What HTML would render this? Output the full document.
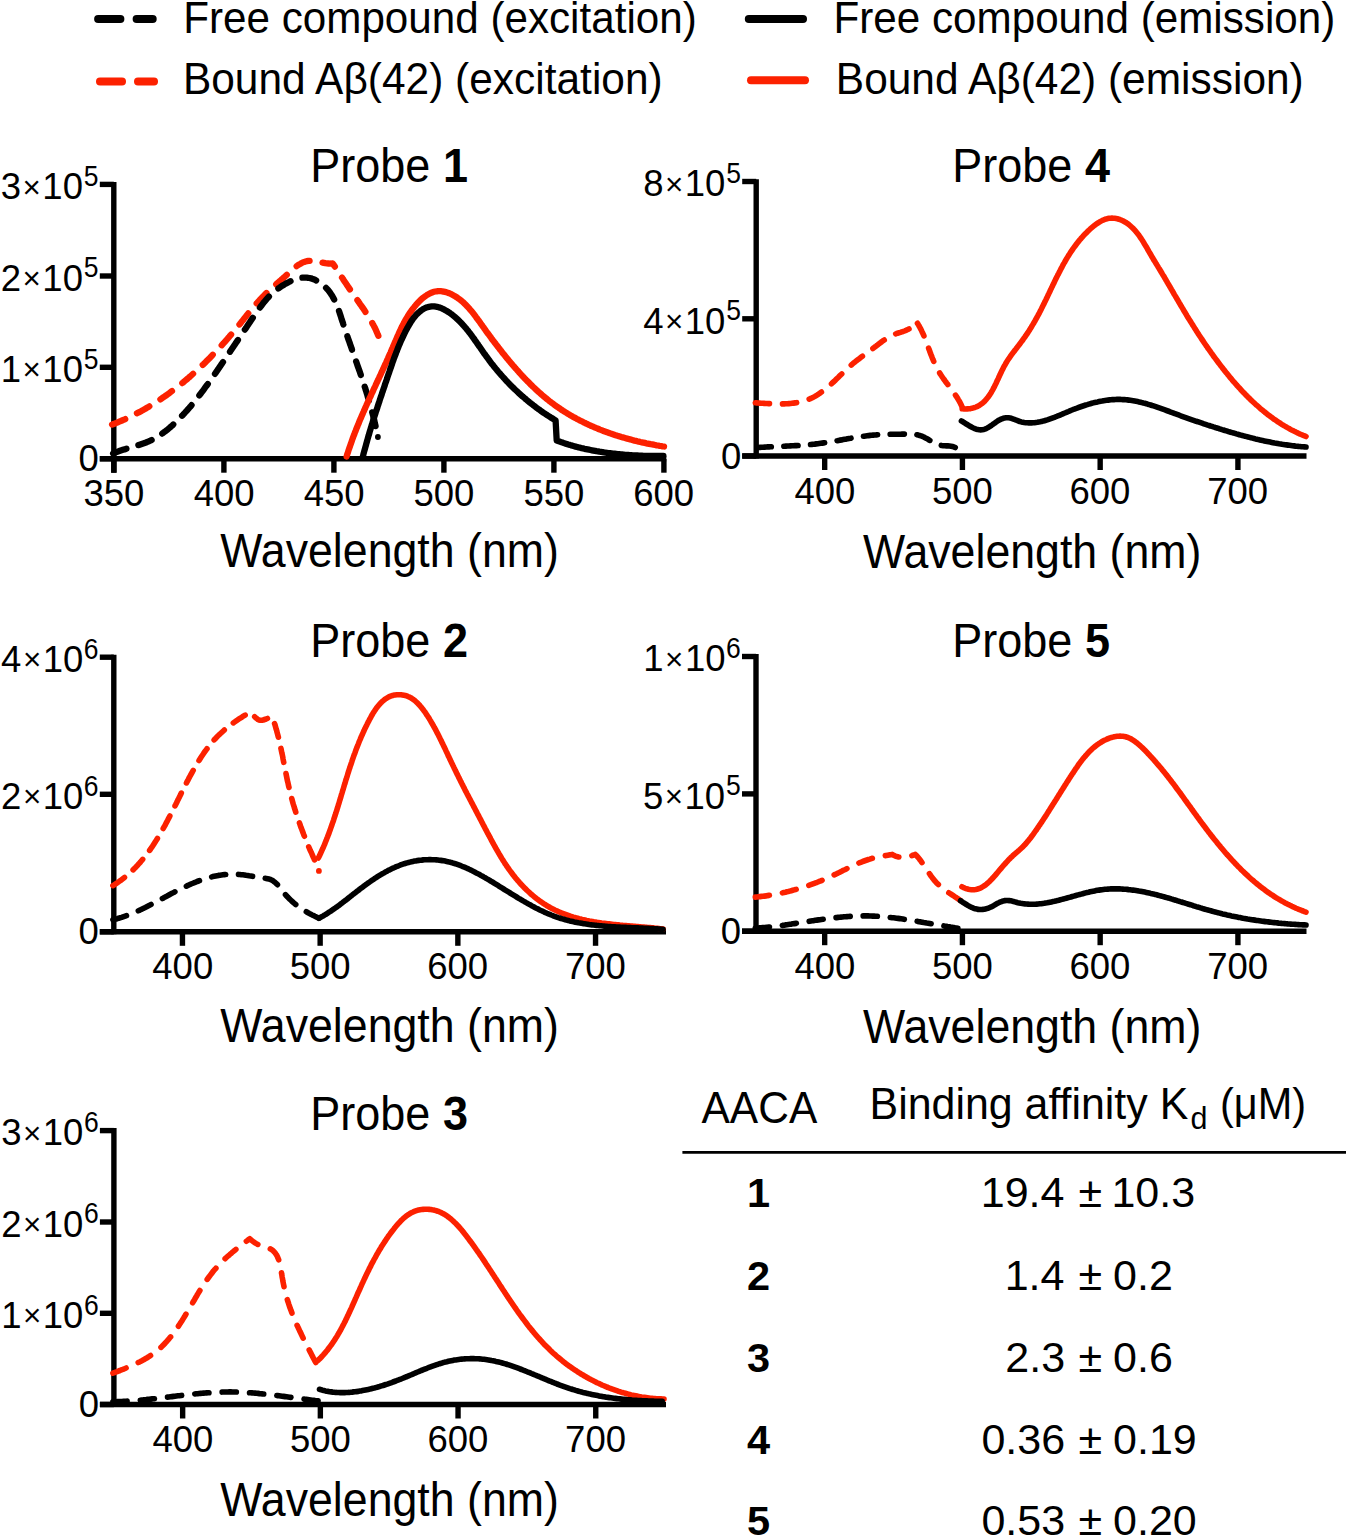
<!DOCTYPE html>
<html><head><meta charset="utf-8"><style>
html,body{margin:0;padding:0;background:#fff;}
svg{display:block;font-family:"Liberation Sans",sans-serif;}
</style></head><body>
<svg width="1350" height="1539" viewBox="0 0 1350 1539">
<rect width="1350" height="1539" fill="#fff"/>
<text transform="translate(183.24,32.80) scale(1,1.055)" font-size="42.2" font-weight="normal">Free compound (excitation)</text>
<text transform="translate(182.92,93.60) scale(1,1.055)" font-size="42.45" font-weight="normal">Bound Aβ(42) (excitation)</text>
<text transform="translate(833.54,32.80) scale(1,1.055)" font-size="42.2" font-weight="normal">Free compound (emission)</text>
<text transform="translate(835.82,93.60) scale(1,1.055)" font-size="42.45" font-weight="normal">Bound Aβ(42) (emission)</text>
<line x1="98.10" y1="19.00" x2="120.40" y2="19.00" stroke="#000" stroke-width="8" stroke-linecap="round"/>
<line x1="136.60" y1="19.00" x2="152.70" y2="19.00" stroke="#000" stroke-width="8" stroke-linecap="round"/>
<line x1="100.00" y1="81.50" x2="122.00" y2="81.50" stroke="#FC2100" stroke-width="8" stroke-linecap="round"/>
<line x1="138.00" y1="81.50" x2="154.00" y2="81.50" stroke="#FC2100" stroke-width="8" stroke-linecap="round"/>
<line x1="748.80" y1="19.00" x2="803.00" y2="19.00" stroke="#000" stroke-width="8" stroke-linecap="round"/>
<line x1="751.00" y1="80.20" x2="805.00" y2="80.20" stroke="#FC2100" stroke-width="8" stroke-linecap="round"/>
<line x1="99.80" y1="458.70" x2="666.20" y2="458.70" stroke="#000" stroke-width="5.4" stroke-linecap="butt"/>
<line x1="113.80" y1="182.00" x2="113.80" y2="472.70" stroke="#000" stroke-width="5.4" stroke-linecap="butt"/>
<line x1="113.90" y1="458.70" x2="113.90" y2="472.70" stroke="#000" stroke-width="5.4" stroke-linecap="butt"/>
<text transform="translate(83.47,506.30) scale(1,1.0)" font-size="36.5" font-weight="normal">350</text>
<line x1="223.90" y1="458.70" x2="223.90" y2="472.70" stroke="#000" stroke-width="5.4" stroke-linecap="butt"/>
<text transform="translate(193.74,506.30) scale(1,1.0)" font-size="36.5" font-weight="normal">400</text>
<line x1="333.90" y1="458.70" x2="333.90" y2="472.70" stroke="#000" stroke-width="5.4" stroke-linecap="butt"/>
<text transform="translate(303.74,506.30) scale(1,1.0)" font-size="36.5" font-weight="normal">450</text>
<line x1="443.90" y1="458.70" x2="443.90" y2="472.70" stroke="#000" stroke-width="5.4" stroke-linecap="butt"/>
<text transform="translate(413.43,506.30) scale(1,1.0)" font-size="36.5" font-weight="normal">500</text>
<line x1="553.90" y1="458.70" x2="553.90" y2="472.70" stroke="#000" stroke-width="5.4" stroke-linecap="butt"/>
<text transform="translate(523.43,506.30) scale(1,1.0)" font-size="36.5" font-weight="normal">550</text>
<line x1="663.90" y1="458.70" x2="663.90" y2="472.70" stroke="#000" stroke-width="5.4" stroke-linecap="butt"/>
<text transform="translate(633.24,506.30) scale(1,1.0)" font-size="36.5" font-weight="normal">600</text>
<line x1="99.80" y1="458.70" x2="113.80" y2="458.70" stroke="#000" stroke-width="5.4" stroke-linecap="butt"/>
<text transform="translate(78.53,471.30) scale(1,1.0)" font-size="36.5" font-weight="normal">0</text>
<line x1="99.80" y1="367.30" x2="113.80" y2="367.30" stroke="#000" stroke-width="5.4" stroke-linecap="butt"/>
<text transform="translate(83.77,368.60) scale(1,1.08)" font-size="26.5" font-weight="normal">5</text>
<text x="0.75" y="382.10" font-size="36.5">1</text>
<text x="22.54" y="380.40" font-size="31.39">×</text>
<text x="42.36" y="382.10" font-size="36.5">10</text>
<line x1="99.80" y1="276.00" x2="113.80" y2="276.00" stroke="#000" stroke-width="5.4" stroke-linecap="butt"/>
<text transform="translate(83.77,277.30) scale(1,1.08)" font-size="26.5" font-weight="normal">5</text>
<text x="0.75" y="290.80" font-size="36.5">2</text>
<text x="22.54" y="289.10" font-size="31.39">×</text>
<text x="42.36" y="290.80" font-size="36.5">10</text>
<line x1="99.80" y1="184.40" x2="113.80" y2="184.40" stroke="#000" stroke-width="5.4" stroke-linecap="butt"/>
<text transform="translate(83.77,185.70) scale(1,1.08)" font-size="26.5" font-weight="normal">5</text>
<text x="0.75" y="199.20" font-size="36.5">3</text>
<text x="22.54" y="197.50" font-size="31.39">×</text>
<text x="42.36" y="199.20" font-size="36.5">10</text>
<text transform="translate(310.31,182.00) scale(1,1.06)" font-size="45.0" font-weight="normal">Probe </text>
<text transform="translate(442.89,182.00) scale(1,1.06)" font-size="45.0" font-weight="bold">1</text>
<text transform="translate(220.30,566.90) scale(1,1.065)" font-size="44.7" font-weight="normal">Wavelength (nm)</text>
<line x1="99.80" y1="931.80" x2="666.00" y2="931.80" stroke="#000" stroke-width="5.4" stroke-linecap="butt"/>
<line x1="113.80" y1="654.70" x2="113.80" y2="934.30" stroke="#000" stroke-width="5.4" stroke-linecap="butt"/>
<line x1="182.45" y1="931.80" x2="182.45" y2="945.80" stroke="#000" stroke-width="5.4" stroke-linecap="butt"/>
<text transform="translate(152.29,979.40) scale(1,1.0)" font-size="36.5" font-weight="normal">400</text>
<line x1="320.15" y1="931.80" x2="320.15" y2="945.80" stroke="#000" stroke-width="5.4" stroke-linecap="butt"/>
<text transform="translate(289.68,979.40) scale(1,1.0)" font-size="36.5" font-weight="normal">500</text>
<line x1="457.85" y1="931.80" x2="457.85" y2="945.80" stroke="#000" stroke-width="5.4" stroke-linecap="butt"/>
<text transform="translate(427.19,979.40) scale(1,1.0)" font-size="36.5" font-weight="normal">600</text>
<line x1="595.55" y1="931.80" x2="595.55" y2="945.80" stroke="#000" stroke-width="5.4" stroke-linecap="butt"/>
<text transform="translate(564.88,979.40) scale(1,1.0)" font-size="36.5" font-weight="normal">700</text>
<line x1="99.80" y1="931.80" x2="113.80" y2="931.80" stroke="#000" stroke-width="5.4" stroke-linecap="butt"/>
<text transform="translate(78.53,944.40) scale(1,1.0)" font-size="36.5" font-weight="normal">0</text>
<line x1="99.80" y1="794.30" x2="113.80" y2="794.30" stroke="#000" stroke-width="5.4" stroke-linecap="butt"/>
<text transform="translate(83.83,795.60) scale(1,1.08)" font-size="26.5" font-weight="normal">6</text>
<text x="1.08" y="809.10" font-size="36.5">2</text>
<text x="22.88" y="807.40" font-size="31.39">×</text>
<text x="42.70" y="809.10" font-size="36.5">10</text>
<line x1="99.80" y1="657.20" x2="113.80" y2="657.20" stroke="#000" stroke-width="5.4" stroke-linecap="butt"/>
<text transform="translate(83.83,658.50) scale(1,1.08)" font-size="26.5" font-weight="normal">6</text>
<text x="1.08" y="672.00" font-size="36.5">4</text>
<text x="22.88" y="670.30" font-size="31.39">×</text>
<text x="42.70" y="672.00" font-size="36.5">10</text>
<text transform="translate(310.31,656.70) scale(1,1.06)" font-size="45.0" font-weight="normal">Probe </text>
<text transform="translate(442.89,656.70) scale(1,1.06)" font-size="45.0" font-weight="bold">2</text>
<text transform="translate(220.30,1042.40) scale(1,1.065)" font-size="44.7" font-weight="normal">Wavelength (nm)</text>
<line x1="99.90" y1="1404.50" x2="666.00" y2="1404.50" stroke="#000" stroke-width="5.4" stroke-linecap="butt"/>
<line x1="113.90" y1="1128.10" x2="113.90" y2="1407.00" stroke="#000" stroke-width="5.4" stroke-linecap="butt"/>
<line x1="182.65" y1="1404.50" x2="182.65" y2="1418.50" stroke="#000" stroke-width="5.4" stroke-linecap="butt"/>
<text transform="translate(152.49,1452.10) scale(1,1.0)" font-size="36.5" font-weight="normal">400</text>
<line x1="320.35" y1="1404.50" x2="320.35" y2="1418.50" stroke="#000" stroke-width="5.4" stroke-linecap="butt"/>
<text transform="translate(289.88,1452.10) scale(1,1.0)" font-size="36.5" font-weight="normal">500</text>
<line x1="458.05" y1="1404.50" x2="458.05" y2="1418.50" stroke="#000" stroke-width="5.4" stroke-linecap="butt"/>
<text transform="translate(427.39,1452.10) scale(1,1.0)" font-size="36.5" font-weight="normal">600</text>
<line x1="595.75" y1="1404.50" x2="595.75" y2="1418.50" stroke="#000" stroke-width="5.4" stroke-linecap="butt"/>
<text transform="translate(565.08,1452.10) scale(1,1.0)" font-size="36.5" font-weight="normal">700</text>
<line x1="99.90" y1="1404.50" x2="113.90" y2="1404.50" stroke="#000" stroke-width="5.4" stroke-linecap="butt"/>
<text transform="translate(78.63,1417.10) scale(1,1.0)" font-size="36.5" font-weight="normal">0</text>
<line x1="99.90" y1="1313.30" x2="113.90" y2="1313.30" stroke="#000" stroke-width="5.4" stroke-linecap="butt"/>
<text transform="translate(83.93,1314.60) scale(1,1.08)" font-size="26.5" font-weight="normal">6</text>
<text x="1.18" y="1328.10" font-size="36.5">1</text>
<text x="22.98" y="1326.40" font-size="31.39">×</text>
<text x="42.80" y="1328.10" font-size="36.5">10</text>
<line x1="99.90" y1="1222.00" x2="113.90" y2="1222.00" stroke="#000" stroke-width="5.4" stroke-linecap="butt"/>
<text transform="translate(83.93,1223.30) scale(1,1.08)" font-size="26.5" font-weight="normal">6</text>
<text x="1.18" y="1236.80" font-size="36.5">2</text>
<text x="22.98" y="1235.10" font-size="31.39">×</text>
<text x="42.80" y="1236.80" font-size="36.5">10</text>
<line x1="99.90" y1="1130.60" x2="113.90" y2="1130.60" stroke="#000" stroke-width="5.4" stroke-linecap="butt"/>
<text transform="translate(83.93,1131.90) scale(1,1.08)" font-size="26.5" font-weight="normal">6</text>
<text x="1.18" y="1145.40" font-size="36.5">3</text>
<text x="22.98" y="1143.70" font-size="31.39">×</text>
<text x="42.80" y="1145.40" font-size="36.5">10</text>
<text transform="translate(310.31,1130.10) scale(1,1.06)" font-size="45.0" font-weight="normal">Probe </text>
<text transform="translate(442.89,1130.10) scale(1,1.06)" font-size="45.0" font-weight="bold">3</text>
<text transform="translate(220.30,1515.70) scale(1,1.065)" font-size="44.7" font-weight="normal">Wavelength (nm)</text>
<line x1="742.20" y1="456.00" x2="1306.50" y2="456.00" stroke="#000" stroke-width="5.4" stroke-linecap="butt"/>
<line x1="756.20" y1="179.20" x2="756.20" y2="458.50" stroke="#000" stroke-width="5.4" stroke-linecap="butt"/>
<line x1="824.67" y1="456.00" x2="824.67" y2="470.00" stroke="#000" stroke-width="5.4" stroke-linecap="butt"/>
<text transform="translate(794.52,503.60) scale(1,1.0)" font-size="36.5" font-weight="normal">400</text>
<line x1="962.42" y1="456.00" x2="962.42" y2="470.00" stroke="#000" stroke-width="5.4" stroke-linecap="butt"/>
<text transform="translate(931.96,503.60) scale(1,1.0)" font-size="36.5" font-weight="normal">500</text>
<line x1="1100.17" y1="456.00" x2="1100.17" y2="470.00" stroke="#000" stroke-width="5.4" stroke-linecap="butt"/>
<text transform="translate(1069.51,503.60) scale(1,1.0)" font-size="36.5" font-weight="normal">600</text>
<line x1="1237.92" y1="456.00" x2="1237.92" y2="470.00" stroke="#000" stroke-width="5.4" stroke-linecap="butt"/>
<text transform="translate(1207.25,503.60) scale(1,1.0)" font-size="36.5" font-weight="normal">700</text>
<line x1="742.20" y1="456.00" x2="756.20" y2="456.00" stroke="#000" stroke-width="5.4" stroke-linecap="butt"/>
<text transform="translate(720.93,468.60) scale(1,1.0)" font-size="36.5" font-weight="normal">0</text>
<line x1="742.20" y1="318.80" x2="756.20" y2="318.80" stroke="#000" stroke-width="5.4" stroke-linecap="butt"/>
<text transform="translate(726.17,320.10) scale(1,1.08)" font-size="26.5" font-weight="normal">5</text>
<text x="643.15" y="333.60" font-size="36.5">4</text>
<text x="664.94" y="331.90" font-size="31.39">×</text>
<text x="684.76" y="333.60" font-size="36.5">10</text>
<line x1="742.20" y1="181.50" x2="756.20" y2="181.50" stroke="#000" stroke-width="5.4" stroke-linecap="butt"/>
<text transform="translate(726.17,182.80) scale(1,1.08)" font-size="26.5" font-weight="normal">5</text>
<text x="643.15" y="196.30" font-size="36.5">8</text>
<text x="664.94" y="194.60" font-size="31.39">×</text>
<text x="684.76" y="196.30" font-size="36.5">10</text>
<text transform="translate(952.31,182.00) scale(1,1.06)" font-size="45.0" font-weight="normal">Probe </text>
<text transform="translate(1084.89,182.00) scale(1,1.06)" font-size="45.0" font-weight="bold">4</text>
<text transform="translate(862.90,568.30) scale(1,1.065)" font-size="44.7" font-weight="normal">Wavelength (nm)</text>
<line x1="742.00" y1="931.20" x2="1306.50" y2="931.20" stroke="#000" stroke-width="5.4" stroke-linecap="butt"/>
<line x1="756.00" y1="654.00" x2="756.00" y2="933.70" stroke="#000" stroke-width="5.4" stroke-linecap="butt"/>
<line x1="824.67" y1="931.20" x2="824.67" y2="945.20" stroke="#000" stroke-width="5.4" stroke-linecap="butt"/>
<text transform="translate(794.52,978.80) scale(1,1.0)" font-size="36.5" font-weight="normal">400</text>
<line x1="962.42" y1="931.20" x2="962.42" y2="945.20" stroke="#000" stroke-width="5.4" stroke-linecap="butt"/>
<text transform="translate(931.96,978.80) scale(1,1.0)" font-size="36.5" font-weight="normal">500</text>
<line x1="1100.17" y1="931.20" x2="1100.17" y2="945.20" stroke="#000" stroke-width="5.4" stroke-linecap="butt"/>
<text transform="translate(1069.51,978.80) scale(1,1.0)" font-size="36.5" font-weight="normal">600</text>
<line x1="1237.92" y1="931.20" x2="1237.92" y2="945.20" stroke="#000" stroke-width="5.4" stroke-linecap="butt"/>
<text transform="translate(1207.25,978.80) scale(1,1.0)" font-size="36.5" font-weight="normal">700</text>
<line x1="742.00" y1="931.20" x2="756.00" y2="931.20" stroke="#000" stroke-width="5.4" stroke-linecap="butt"/>
<text transform="translate(720.73,943.80) scale(1,1.0)" font-size="36.5" font-weight="normal">0</text>
<line x1="742.00" y1="793.90" x2="756.00" y2="793.90" stroke="#000" stroke-width="5.4" stroke-linecap="butt"/>
<text transform="translate(725.97,795.20) scale(1,1.08)" font-size="26.5" font-weight="normal">5</text>
<text x="642.95" y="808.70" font-size="36.5">5</text>
<text x="664.74" y="807.00" font-size="31.39">×</text>
<text x="684.56" y="808.70" font-size="36.5">10</text>
<line x1="742.00" y1="656.50" x2="756.00" y2="656.50" stroke="#000" stroke-width="5.4" stroke-linecap="butt"/>
<text transform="translate(726.03,657.80) scale(1,1.08)" font-size="26.5" font-weight="normal">6</text>
<text x="643.28" y="671.30" font-size="36.5">1</text>
<text x="665.08" y="669.60" font-size="31.39">×</text>
<text x="684.90" y="671.30" font-size="36.5">10</text>
<text transform="translate(952.31,656.70) scale(1,1.06)" font-size="45.0" font-weight="normal">Probe </text>
<text transform="translate(1084.89,656.70) scale(1,1.06)" font-size="45.0" font-weight="bold">5</text>
<text transform="translate(862.90,1043.30) scale(1,1.065)" font-size="44.7" font-weight="normal">Wavelength (nm)</text>
<path d="M112.1,424.6 L113.5,424.0 L114.9,423.5 L116.4,422.9 L117.8,422.3 L119.2,421.7 L120.6,421.1 L122.0,420.5 L123.4,419.9 L124.8,419.3 L126.1,418.7 L127.5,418.0 L128.9,417.4 L130.3,416.7 L131.6,416.1 L133.0,415.4 L134.3,414.7 L135.7,414.0 L137.0,413.3 L138.3,412.6 L139.7,411.9 L141.0,411.2 L142.3,410.4 L143.6,409.7 L144.9,409.0 L146.2,408.2 L147.5,407.4 L148.8,406.7 L150.1,405.9 L151.4,405.1 L152.7,404.3 L154.0,403.5 L155.2,402.7 L156.5,401.9 L157.8,401.1 L159.0,400.3 L160.3,399.4 L161.5,398.6 L162.8,397.7 L164.0,396.9 L165.2,396.0 L166.5,395.2 L167.7,394.3 L168.9,393.4 L170.1,392.5 L171.3,391.6 L172.5,390.7 L173.7,389.8 L174.9,388.9 L176.1,388.0 L177.3,387.1 L178.5,386.1 L179.7,385.2 L180.8,384.3 L182.0,383.3 L183.2,382.4 L184.3,381.4 L185.5,380.4 L186.6,379.5 L187.8,378.5 L188.9,377.5 L190.1,376.5 L191.2,375.5 L192.3,374.5 L193.4,373.5 L194.6,372.5 L195.7,371.5 L196.8,370.5 L197.9,369.5 L199.0,368.4 L200.1,367.4 L201.2,366.4 L202.3,365.3 L203.4,364.3 L204.5,363.2 L205.5,362.2 L206.6,361.1 L207.7,360.0 L208.7,359.0 L209.8,357.9 L210.9,356.8 L211.9,355.7 L213.0,354.6 L214.0,353.5 L215.1,352.5 L216.1,351.4 L217.1,350.3 L218.2,349.1 L219.2,348.0 L220.2,346.9 L221.2,345.8 L222.2,344.7 L223.3,343.6 L224.3,342.4 L225.3,341.3 L226.3,340.2 L227.3,339.0 L228.2,337.9 L229.2,336.8 L230.2,335.6 L231.2,334.5 L232.2,333.3 L233.2,332.1 L234.1,331.0 L235.1,329.8 L236.0,328.7 L237.0,327.5 L238.0,326.3 L238.9,325.2 L239.9,324.0 L240.8,322.8 L241.7,321.6 L242.7,320.5 L243.6,319.3 L244.6,318.1 L245.5,316.9 L246.4,315.8 L247.4,314.6 L248.3,313.4 L249.3,312.2 L250.2,311.1 L251.2,309.9 L252.1,308.7 L253.1,307.6 L254.1,306.4 L255.0,305.3 L256.0,304.2 L257.0,303.0 L258.0,301.9 L259.0,300.8 L260.0,299.7 L261.0,298.6 L262.0,297.5 L263.1,296.4 L264.1,295.4 L265.2,294.3 L266.2,293.3 L267.3,292.2 L268.4,291.2 L269.5,290.2 L270.6,289.2 L271.8,288.2 L272.9,287.2 L274.0,286.2 L275.2,285.2 L276.3,284.2 L277.4,283.2 L278.6,282.2 L279.7,281.2 L280.9,280.2 L282.0,279.2 L283.2,278.2 L284.3,277.1 L285.5,276.1 L286.6,275.0 L287.7,274.0 L288.8,272.9 L290.0,271.9 L291.1,270.8 L292.2,269.8 L293.4,268.8 L294.5,267.8 L295.7,266.9 L296.8,266.0 L298.0,265.2 L299.2,264.4 L300.5,263.7 L301.7,263.0 L303.0,262.4 L304.3,261.9 L305.6,261.5 L307.0,261.2 L308.4,260.9 L309.8,260.8 L311.3,260.8 L312.8,260.9 L314.3,261.1 L315.9,261.3 L317.4,261.6 L319.0,261.9 L320.6,262.2 L322.2,262.6 L323.8,262.9 L325.3,263.2 L326.9,263.4 L328.4,263.5 L329.9,263.6 L331.3,263.5 L332.7,263.3 L332.7,263.3 L333.5,264.6 L334.4,265.9 L335.2,267.1 L336.0,268.4 L336.9,269.7 L337.7,271.0 L338.5,272.3 L339.4,273.5 L340.2,274.8 L341.1,276.1 L341.9,277.4 L342.8,278.7 L343.6,280.0 L344.4,281.2 L345.3,282.5 L346.2,283.8 L347.0,285.1 L347.9,286.3 L348.7,287.6 L349.6,288.9 L350.5,290.2 L351.3,291.4 L352.2,292.7 L353.1,294.0 L353.9,295.2 L354.8,296.5 L355.7,297.8 L356.6,299.0 L357.5,300.3 L358.4,301.5 L359.2,302.8 L360.1,304.1 L361.0,305.3 L361.9,306.6 L362.8,307.9 L363.6,309.1 L364.5,310.4 L365.3,311.7 L366.2,313.0 L367.0,314.3 L367.8,315.5 L368.7,316.8 L369.5,318.2 L370.3,319.5 L371.0,320.8 L371.8,322.1 L372.5,323.5 L373.3,324.8 L374.0,326.2 L374.7,327.5 L375.4,328.9 L376.0,330.3 L376.6,331.7 L377.2,333.1 L377.8,334.6 L378.4,336.0" fill="none" stroke="#FC2100" stroke-width="6.3" stroke-linejoin="round" stroke-linecap="round" stroke-dasharray="14.20 13.12"/>
<path d="M113.1,453.6 L114.5,453.0 L115.8,452.4 L117.2,451.9 L118.6,451.3 L120.0,450.8 L121.5,450.3 L122.9,449.8 L124.3,449.4 L125.8,448.9 L127.2,448.5 L128.7,448.0 L130.1,447.6 L131.6,447.2 L133.1,446.7 L134.5,446.3 L136.0,445.9 L137.4,445.4 L138.9,445.0 L140.3,444.5 L141.7,444.0 L143.2,443.5 L144.6,443.0 L146.0,442.5 L147.4,441.9 L148.8,441.3 L150.2,440.7 L151.5,440.1 L152.8,439.4 L154.2,438.7 L155.5,438.0 L156.8,437.2 L158.1,436.4 L159.3,435.6 L160.6,434.8 L161.8,433.9 L163.0,433.0 L164.2,432.1 L165.4,431.2 L166.6,430.3 L167.8,429.3 L168.9,428.4 L170.1,427.4 L171.2,426.4 L172.4,425.4 L173.5,424.3 L174.6,423.3 L175.7,422.3 L176.8,421.2 L177.8,420.1 L178.9,419.1 L180.0,418.0 L181.0,416.9 L182.0,415.8 L183.1,414.7 L184.1,413.6 L185.1,412.5 L186.1,411.4 L187.1,410.3 L188.1,409.2 L189.1,408.0 L190.1,406.9 L191.1,405.7 L192.0,404.6 L193.0,403.4 L193.9,402.3 L194.9,401.1 L195.8,399.9 L196.8,398.7 L197.7,397.6 L198.6,396.4 L199.5,395.2 L200.4,394.0 L201.3,392.8 L202.3,391.6 L203.2,390.4 L204.1,389.2 L204.9,387.9 L205.8,386.7 L206.7,385.5 L207.6,384.3 L208.5,383.1 L209.4,381.8 L210.2,380.6 L211.1,379.4 L212.0,378.1 L212.8,376.9 L213.7,375.6 L214.6,374.4 L215.4,373.2 L216.3,371.9 L217.1,370.7 L218.0,369.4 L218.8,368.2 L219.7,366.9 L220.5,365.7 L221.4,364.4 L222.2,363.2 L223.1,361.9 L224.0,360.7 L224.8,359.4 L225.7,358.2 L226.5,356.9 L227.3,355.7 L228.2,354.4 L229.0,353.2 L229.9,351.9 L230.7,350.6 L231.6,349.4 L232.4,348.1 L233.3,346.9 L234.1,345.6 L235.0,344.4 L235.8,343.1 L236.6,341.9 L237.5,340.6 L238.3,339.4 L239.2,338.1 L240.0,336.9 L240.8,335.6 L241.7,334.3 L242.5,333.1 L243.4,331.8 L244.2,330.6 L245.0,329.4 L245.9,328.1 L246.7,326.9 L247.5,325.6 L248.4,324.4 L249.2,323.1 L250.1,321.9 L250.9,320.6 L251.7,319.4 L252.6,318.2 L253.4,316.9 L254.2,315.7 L255.1,314.5 L255.9,313.2 L256.7,312.0 L257.6,310.8 L258.5,309.6 L259.3,308.4 L260.2,307.2 L261.1,306.0 L262.0,304.8 L262.9,303.6 L263.8,302.4 L264.8,301.3 L265.7,300.2 L266.7,299.0 L267.7,297.9 L268.8,296.8 L269.8,295.7 L270.9,294.7 L272.0,293.6 L273.2,292.6 L274.3,291.6 L275.5,290.6 L276.8,289.6 L278.0,288.7 L279.3,287.8 L280.5,286.9 L281.8,286.0 L283.1,285.2 L284.5,284.4 L285.8,283.6 L287.2,282.9 L288.5,282.2 L289.9,281.5 L291.3,280.9 L292.7,280.3 L294.0,279.7 L295.4,279.2 L296.8,278.8 L298.2,278.4 L299.6,278.1 L301.0,277.8 L302.4,277.7 L303.8,277.6 L305.2,277.6 L306.7,277.6 L308.1,277.8 L309.5,278.0 L310.9,278.3 L312.2,278.8 L313.6,279.3 L315.0,279.8 L316.3,280.5 L317.6,281.2 L318.9,282.0 L320.2,282.8 L321.4,283.7 L322.7,284.7 L323.8,285.7 L325.0,286.7 L326.0,287.8 L327.1,288.9 L328.1,290.1 L329.0,291.2 L329.9,292.4 L330.8,293.7 L331.6,294.9 L332.4,296.2 L333.1,297.5 L333.8,298.8 L334.5,300.1 L335.2,301.5 L335.8,302.8 L336.4,304.2 L337.0,305.6 L337.5,307.0 L338.0,308.4 L338.6,309.8 L339.1,311.3 L339.6,312.7 L340.0,314.1 L340.5,315.6 L341.0,317.0 L341.4,318.5 L341.9,319.9 L342.4,321.4 L342.9,322.8 L343.3,324.3 L343.8,325.7 L344.3,327.2 L344.8,328.6 L345.2,330.1 L345.7,331.5 L346.2,332.9 L346.7,334.4 L347.2,335.8 L347.7,337.2 L348.2,338.7 L348.7,340.1 L349.2,341.5 L349.7,342.9 L350.2,344.4 L350.7,345.8 L351.2,347.2 L351.7,348.6 L352.1,350.1 L352.6,351.5 L353.1,352.9 L353.6,354.3 L354.1,355.7 L354.6,357.2 L355.1,358.6 L355.6,360.0 L356.1,361.4 L356.6,362.8 L357.1,364.2 L357.6,365.7 L358.1,367.1 L358.6,368.5 L359.1,369.9 L359.6,371.3 L360.1,372.8 L360.6,374.2 L361.0,375.6 L361.5,377.0 L362.0,378.5 L362.5,379.9 L362.9,381.3 L363.4,382.7 L363.9,384.2 L364.3,385.6 L364.8,387.0 L365.3,388.4 L365.7,389.9 L366.2,391.3 L366.6,392.7 L367.1,394.2 L367.5,395.6 L367.9,397.1 L368.4,398.5 L368.8,399.9 L369.2,401.4 L369.6,402.8 L370.1,404.3 L370.5,405.7 L370.9,407.2 L371.3,408.6 L371.7,410.1 L372.0,411.6 L372.4,413.0 L372.8,414.5 L373.2,415.9 L373.5,417.4 L373.9,418.9 L374.3,420.4 L374.6,421.8 L374.9,423.3 L375.3,424.8 L375.6,426.3" fill="none" stroke="#000" stroke-width="6.3" stroke-linejoin="round" stroke-linecap="round" stroke-dasharray="14.20 12.49"/>
<path d="M346.6,456.5 L347.0,455.1 L347.5,453.6 L348.0,452.2 L348.4,450.7 L348.9,449.3 L349.4,447.9 L349.9,446.4 L350.4,445.0 L350.9,443.6 L351.4,442.2 L351.9,440.7 L352.4,439.3 L352.9,437.9 L353.4,436.5 L354.0,435.1 L354.5,433.7 L355.0,432.3 L355.6,430.9 L356.1,429.5 L356.7,428.1 L357.3,426.7 L357.8,425.3 L358.4,423.9 L359.0,422.5 L359.5,421.1 L360.1,419.7 L360.7,418.4 L361.3,417.0 L361.9,415.6 L362.5,414.2 L363.1,412.8 L363.7,411.5 L364.3,410.1 L364.9,408.7 L365.5,407.3 L366.1,406.0 L366.7,404.6 L367.4,403.2 L368.0,401.8 L368.6,400.5 L369.2,399.1 L369.8,397.7 L370.5,396.4 L371.1,395.0 L371.7,393.6 L372.4,392.3 L373.0,390.9 L373.6,389.5 L374.2,388.2 L374.9,386.8 L375.5,385.5 L376.1,384.1 L376.8,382.7 L377.4,381.4 L378.0,380.0 L378.7,378.6 L379.3,377.3 L379.9,375.9 L380.6,374.6 L381.2,373.2 L381.8,371.8 L382.5,370.5 L383.1,369.1 L383.7,367.7 L384.3,366.4 L385.0,365.0 L385.6,363.6 L386.2,362.3 L386.8,360.9 L387.4,359.5 L388.0,358.2 L388.6,356.8 L389.2,355.4 L389.9,354.0 L390.5,352.7 L391.1,351.3 L391.6,349.9 L392.2,348.5 L392.8,347.2 L393.4,345.8 L394.0,344.4 L394.6,343.0 L395.2,341.6 L395.8,340.3 L396.4,338.9 L397.0,337.5 L397.6,336.1 L398.2,334.8 L398.8,333.4 L399.4,332.0 L400.0,330.7 L400.7,329.3 L401.3,327.9 L402.0,326.6 L402.7,325.2 L403.4,323.9 L404.1,322.6 L404.8,321.2 L405.5,319.9 L406.3,318.6 L407.1,317.3 L407.9,316.0 L408.7,314.7 L409.5,313.4 L410.4,312.2 L411.3,310.9 L412.2,309.6 L413.1,308.4 L414.1,307.2 L415.1,305.9 L416.1,304.7 L417.1,303.6 L418.2,302.4 L419.3,301.3 L420.4,300.2 L421.5,299.2 L422.7,298.1 L423.9,297.2 L425.1,296.3 L426.3,295.5 L427.5,294.7 L428.8,294.0 L430.1,293.3 L431.4,292.7 L432.7,292.2 L434.0,291.8 L435.3,291.5 L436.7,291.3 L438.1,291.1 L439.4,291.1 L440.8,291.2 L442.2,291.3 L443.6,291.6 L445.0,291.9 L446.4,292.3 L447.8,292.7 L449.2,293.2 L450.6,293.8 L451.9,294.5 L453.2,295.2 L454.5,295.9 L455.8,296.7 L457.1,297.5 L458.3,298.4 L459.5,299.3 L460.7,300.2 L461.8,301.2 L463.0,302.2 L464.1,303.2 L465.2,304.3 L466.2,305.3 L467.3,306.4 L468.4,307.6 L469.4,308.7 L470.4,309.9 L471.4,311.1 L472.4,312.3 L473.4,313.5 L474.3,314.8 L475.3,316.0 L476.2,317.3 L477.1,318.5 L478.1,319.8 L479.0,321.0 L479.9,322.3 L480.8,323.6 L481.7,324.8 L482.6,326.1 L483.5,327.3 L484.4,328.6 L485.3,329.8 L486.1,331.1 L487.0,332.3 L487.9,333.5 L488.8,334.7 L489.7,335.9 L490.6,337.1 L491.4,338.3 L492.3,339.5 L493.2,340.7 L494.1,341.8 L495.0,343.0 L495.9,344.2 L496.8,345.3 L497.7,346.5 L498.6,347.7 L499.5,348.8 L500.4,350.0 L501.3,351.1 L502.2,352.3 L503.1,353.5 L504.0,354.6 L505.0,355.8 L505.9,356.9 L506.8,358.1 L507.8,359.2 L508.7,360.4 L509.7,361.5 L510.7,362.7 L511.6,363.8 L512.6,365.0 L513.6,366.1 L514.6,367.2 L515.6,368.4 L516.6,369.5 L517.6,370.6 L518.6,371.7 L519.6,372.9 L520.6,374.0 L521.6,375.1 L522.6,376.2 L523.7,377.3 L524.7,378.4 L525.8,379.5 L526.8,380.6 L527.9,381.7 L529.0,382.7 L530.0,383.8 L531.1,384.9 L532.2,385.9 L533.3,387.0 L534.4,388.0 L535.5,389.1 L536.6,390.1 L537.7,391.1 L538.8,392.1 L540.0,393.1 L541.1,394.1 L542.2,395.1 L543.4,396.1 L544.5,397.1 L545.7,398.0 L546.9,399.0 L548.0,399.9 L549.2,400.9 L550.4,401.8 L551.6,402.7 L552.8,403.6 L554.0,404.5 L555.2,405.4 L556.5,406.3 L557.7,407.1 L558.9,408.0 L560.2,408.8 L561.4,409.7 L562.7,410.5 L563.9,411.3 L565.2,412.1 L566.5,412.9 L567.8,413.7 L569.0,414.4 L570.3,415.2 L571.6,415.9 L572.9,416.7 L574.2,417.4 L575.6,418.1 L576.9,418.9 L578.2,419.6 L579.5,420.3 L580.9,420.9 L582.2,421.6 L583.5,422.3 L584.9,422.9 L586.3,423.6 L587.6,424.2 L589.0,424.9 L590.3,425.5 L591.7,426.1 L593.1,426.7 L594.5,427.3 L595.9,427.9 L597.2,428.4 L598.6,429.0 L600.0,429.6 L601.4,430.1 L602.8,430.7 L604.2,431.2 L605.7,431.7 L607.1,432.2 L608.5,432.8 L609.9,433.3 L611.3,433.7 L612.8,434.2 L614.2,434.7 L615.6,435.2 L617.1,435.6 L618.5,436.1 L619.9,436.5 L621.4,437.0 L622.8,437.4 L624.3,437.8 L625.7,438.2 L627.2,438.6 L628.6,439.0 L630.1,439.4 L631.6,439.8 L633.0,440.2 L634.5,440.6 L635.9,440.9 L637.4,441.3 L638.9,441.6 L640.4,442.0 L641.8,442.3 L643.3,442.6 L644.8,442.9 L646.2,443.3 L647.7,443.6 L649.2,443.9 L650.7,444.2 L652.2,444.4 L653.6,444.7 L655.1,445.0 L656.6,445.3 L658.1,445.5 L659.6,445.8 L661.0,446.0 L662.5,446.3 L664.0,446.5" fill="none" stroke="#FC2100" stroke-width="6.3" stroke-linejoin="round" stroke-linecap="round"/>
<path d="M362.8,456.8 L363.2,455.4 L363.5,453.9 L363.9,452.5 L364.3,451.0 L364.7,449.6 L365.1,448.2 L365.5,446.7 L365.9,445.3 L366.3,443.8 L366.7,442.4 L367.1,440.9 L367.5,439.5 L367.9,438.0 L368.3,436.6 L368.8,435.1 L369.2,433.6 L369.6,432.2 L370.0,430.7 L370.5,429.3 L370.9,427.8 L371.4,426.4 L371.8,424.9 L372.3,423.5 L372.7,422.0 L373.2,420.5 L373.6,419.1 L374.1,417.6 L374.5,416.2 L375.0,414.7 L375.5,413.3 L375.9,411.8 L376.4,410.4 L376.9,408.9 L377.4,407.5 L377.8,406.0 L378.3,404.6 L378.8,403.1 L379.3,401.7 L379.7,400.2 L380.2,398.8 L380.7,397.3 L381.2,395.9 L381.7,394.5 L382.1,393.0 L382.6,391.6 L383.1,390.2 L383.6,388.7 L384.1,387.3 L384.6,385.9 L385.0,384.4 L385.5,383.0 L386.0,381.6 L386.5,380.2 L387.0,378.8 L387.4,377.4 L387.9,376.0 L388.4,374.5 L388.9,373.1 L389.4,371.7 L389.8,370.3 L390.3,369.0 L390.8,367.6 L391.3,366.2 L391.8,364.8 L392.2,363.4 L392.7,362.0 L393.2,360.6 L393.7,359.2 L394.2,357.8 L394.7,356.5 L395.3,355.1 L395.8,353.7 L396.3,352.3 L396.9,350.9 L397.4,349.5 L398.0,348.1 L398.5,346.7 L399.1,345.3 L399.7,343.9 L400.3,342.5 L400.9,341.1 L401.6,339.7 L402.2,338.3 L402.9,336.9 L403.5,335.5 L404.2,334.1 L404.9,332.7 L405.6,331.2 L406.4,329.8 L407.1,328.4 L407.9,327.0 L408.7,325.6 L409.5,324.2 L410.4,322.8 L411.2,321.4 L412.1,320.1 L413.0,318.8 L414.0,317.6 L414.9,316.4 L415.9,315.2 L416.9,314.1 L418.0,313.1 L419.1,312.1 L420.2,311.2 L421.3,310.3 L422.5,309.5 L423.7,308.8 L424.9,308.2 L426.2,307.6 L427.5,307.2 L428.9,306.8 L430.2,306.6 L431.6,306.4 L433.0,306.4 L434.4,306.4 L435.8,306.6 L437.1,306.8 L438.5,307.2 L439.9,307.6 L441.3,308.2 L442.7,308.8 L444.0,309.4 L445.4,310.2 L446.7,310.9 L448.0,311.8 L449.3,312.6 L450.5,313.5 L451.8,314.4 L453.0,315.4 L454.2,316.4 L455.3,317.3 L456.5,318.4 L457.6,319.4 L458.7,320.4 L459.8,321.5 L460.8,322.6 L461.9,323.7 L462.9,324.8 L463.9,325.9 L464.9,327.1 L465.9,328.2 L466.8,329.4 L467.8,330.5 L468.7,331.7 L469.7,332.9 L470.6,334.1 L471.5,335.3 L472.4,336.6 L473.3,337.8 L474.2,339.0 L475.0,340.3 L475.9,341.5 L476.8,342.8 L477.7,344.0 L478.5,345.3 L479.4,346.5 L480.3,347.8 L481.1,349.0 L482.0,350.3 L482.8,351.5 L483.7,352.8 L484.6,354.0 L485.5,355.2 L486.4,356.5 L487.3,357.7 L488.2,358.9 L489.1,360.1 L490.0,361.4 L490.9,362.6 L491.8,363.8 L492.8,364.9 L493.7,366.1 L494.6,367.3 L495.6,368.5 L496.6,369.6 L497.5,370.8 L498.5,372.0 L499.5,373.1 L500.5,374.2 L501.5,375.4 L502.5,376.5 L503.5,377.6 L504.5,378.7 L505.5,379.8 L506.5,380.9 L507.6,382.0 L508.6,383.1 L509.6,384.2 L510.7,385.3 L511.8,386.3 L512.8,387.4 L513.9,388.4 L515.0,389.5 L516.1,390.5 L517.2,391.5 L518.3,392.6 L519.4,393.6 L520.5,394.6 L521.6,395.6 L522.7,396.6 L523.9,397.5 L525.0,398.5 L526.2,399.5 L527.3,400.5 L528.5,401.4 L529.6,402.4 L530.8,403.3 L532.0,404.2 L533.2,405.2 L534.4,406.1 L535.6,407.0 L536.8,407.9 L538.0,408.8 L539.2,409.6 L540.4,410.5 L541.6,411.4 L542.9,412.3 L544.1,413.1 L545.4,413.9 L546.6,414.8 L547.9,415.6 L549.2,416.4 L550.4,417.2 L551.7,418.0 L553.0,418.8 L554.3,419.6 L555.6,420.4 L556.7,440.6 L558.1,441.1 L559.6,441.6 L561.0,442.1 L562.5,442.6 L563.9,443.1 L565.4,443.6 L566.8,444.0 L568.3,444.5 L569.8,444.9 L571.2,445.4 L572.7,445.8 L574.2,446.2 L575.6,446.6 L577.1,447.0 L578.6,447.4 L580.1,447.7 L581.6,448.1 L583.0,448.4 L584.5,448.8 L586.0,449.1 L587.5,449.4 L589.0,449.7 L590.5,450.0 L592.0,450.3 L593.5,450.6 L595.0,450.9 L596.5,451.2 L598.0,451.4 L599.5,451.7 L601.0,451.9 L602.5,452.1 L604.0,452.4 L605.5,452.6 L607.0,452.8 L608.5,453.0 L610.0,453.2 L611.5,453.4 L613.1,453.6 L614.6,453.7 L616.1,453.9 L617.6,454.1 L619.1,454.2 L620.7,454.4 L622.2,454.5 L623.7,454.6 L625.2,454.8 L626.7,454.9 L628.3,455.0 L629.8,455.1 L631.3,455.2 L632.8,455.3 L634.4,455.4 L635.9,455.4 L637.4,455.5 L638.9,455.6 L640.5,455.7 L642.0,455.7 L643.5,455.8 L645.1,455.8 L646.6,455.9 L648.1,455.9 L649.6,455.9 L651.2,456.0 L652.7,456.0 L654.2,456.0 L655.8,456.0 L657.3,456.0 L658.8,456.0 L660.3,456.0 L661.9,456.0 L663.4,456.0" fill="none" stroke="#000" stroke-width="6.3" stroke-linejoin="round" stroke-linecap="round"/>
<path d="M755.3,402.8 L756.7,402.9 L758.2,403.0 L759.6,403.1 L761.1,403.2 L762.6,403.3 L764.1,403.4 L765.6,403.5 L767.1,403.5 L768.7,403.6 L770.2,403.7 L771.8,403.8 L773.3,403.8 L774.9,403.9 L776.4,403.9 L778.0,403.9 L779.6,403.9 L781.1,403.9 L782.7,403.9 L784.2,403.9 L785.8,403.8 L787.4,403.7 L788.9,403.6 L790.5,403.5 L792.0,403.3 L793.5,403.1 L795.1,402.9 L796.6,402.7 L798.1,402.4 L799.6,402.1 L801.0,401.8 L802.5,401.4 L803.9,401.0 L805.4,400.6 L806.8,400.1 L808.2,399.6 L809.6,399.0 L810.9,398.4 L812.3,397.8 L813.6,397.1 L814.9,396.4 L816.2,395.6 L817.4,394.9 L818.7,394.0 L819.9,393.2 L821.1,392.3 L822.4,391.4 L823.6,390.5 L824.7,389.6 L825.9,388.6 L827.1,387.7 L828.3,386.7 L829.4,385.6 L830.6,384.6 L831.7,383.6 L832.8,382.5 L834.0,381.5 L835.1,380.4 L836.2,379.3 L837.3,378.2 L838.4,377.2 L839.5,376.1 L840.6,375.0 L841.8,373.9 L842.9,372.8 L844.0,371.8 L845.1,370.7 L846.2,369.6 L847.3,368.6 L848.5,367.5 L849.6,366.5 L850.7,365.5 L851.9,364.5 L853.0,363.5 L854.2,362.6 L855.4,361.6 L856.5,360.7 L857.7,359.8 L858.9,358.9 L860.1,358.0 L861.3,357.1 L862.5,356.2 L863.7,355.3 L864.9,354.4 L866.1,353.5 L867.3,352.6 L868.5,351.7 L869.8,350.8 L871.0,349.9 L872.2,349.0 L873.4,348.1 L874.6,347.1 L875.9,346.2 L877.1,345.3 L878.3,344.3 L879.5,343.4 L880.8,342.5 L882.0,341.5 L883.2,340.7 L884.5,339.8 L885.7,338.9 L886.9,338.1 L888.2,337.3 L889.5,336.6 L890.8,335.9 L892.1,335.2 L893.4,334.7 L894.8,334.1 L896.2,333.7 L897.6,333.2 L899.0,332.8 L900.4,332.4 L901.8,331.9 L903.2,331.5 L904.5,331.0 L905.9,330.4 L907.2,329.8 L908.5,329.2 L909.8,328.4 L911.0,327.5 L912.2,326.6 L913.3,325.5 L914.3,324.2 L915.3,322.9 L916.2,321.3 L916.2,321.3 L917.0,322.6 L917.8,323.8 L918.6,325.1 L919.4,326.5 L920.1,327.8 L920.8,329.2 L921.5,330.5 L922.1,331.9 L922.8,333.3 L923.4,334.7 L924.0,336.1 L924.6,337.5 L925.1,338.9 L925.7,340.4 L926.2,341.8 L926.8,343.3 L927.3,344.7 L927.9,346.1 L928.4,347.6 L928.9,349.1 L929.5,350.5 L930.0,352.0 L930.5,353.4 L931.1,354.9 L931.7,356.3 L932.2,357.7 L932.8,359.2 L933.4,360.6 L934.0,362.0 L934.6,363.4 L935.3,364.8 L935.9,366.2 L936.6,367.5 L937.3,368.9 L938.1,370.2 L938.8,371.6 L939.6,372.9 L940.4,374.2 L941.3,375.5 L942.1,376.7 L943.0,378.0 L943.9,379.3 L944.8,380.5 L945.7,381.8 L946.6,383.0 L947.6,384.2 L948.5,385.5 L949.4,386.7 L950.3,387.9 L951.3,389.2 L952.2,390.4 L953.1,391.7 L954.0,392.9 L954.9,394.2 L955.7,395.5 L956.6,396.7 L957.4,398.0 L958.2,399.4 L959.0,400.7 L959.7,402.0 L960.5,403.4 L961.1,404.8 L961.8,406.2 L962.4,407.6" fill="none" stroke="#FC2100" stroke-width="5.6" stroke-linejoin="round" stroke-linecap="round" stroke-dasharray="14.20 13.05"/>
<path d="M757.1,447.6 L758.6,447.5 L760.1,447.4 L761.6,447.3 L763.1,447.2 L764.7,447.1 L766.2,447.0 L767.7,446.9 L769.2,446.9 L770.7,446.8 L772.2,446.7 L773.8,446.6 L775.3,446.6 L776.8,446.5 L778.3,446.4 L779.8,446.4 L781.4,446.3 L782.9,446.2 L784.4,446.2 L785.9,446.1 L787.4,446.0 L789.0,446.0 L790.5,445.9 L792.0,445.8 L793.5,445.7 L795.0,445.6 L796.6,445.6 L798.1,445.5 L799.6,445.4 L801.1,445.3 L802.6,445.2 L804.1,445.1 L805.7,444.9 L807.2,444.8 L808.7,444.7 L810.2,444.5 L811.7,444.4 L813.2,444.2 L814.7,444.1 L816.2,443.9 L817.7,443.7 L819.2,443.5 L820.7,443.3 L822.2,443.1 L823.7,442.9 L825.2,442.7 L826.7,442.4 L828.2,442.2 L829.7,441.9 L831.2,441.7 L832.7,441.4 L834.2,441.2 L835.7,440.9 L837.2,440.7 L838.7,440.4 L840.2,440.1 L841.7,439.9 L843.2,439.6 L844.7,439.3 L846.2,439.1 L847.6,438.8 L849.1,438.5 L850.6,438.3 L852.1,438.0 L853.6,437.8 L855.1,437.5 L856.6,437.3 L858.1,437.0 L859.6,436.8 L861.1,436.6 L862.6,436.4 L864.1,436.2 L865.6,436.0 L867.1,435.8 L868.6,435.6 L870.2,435.4 L871.7,435.3 L873.2,435.1 L874.7,435.0 L876.2,434.9 L877.7,434.7 L879.3,434.7 L880.8,434.6 L882.3,434.5 L883.8,434.5 L885.4,434.4 L886.9,434.4 L888.4,434.3 L890.0,434.3 L891.5,434.3 L893.0,434.3 L894.5,434.2 L896.1,434.2 L897.6,434.2 L899.1,434.2 L900.6,434.2 L902.1,434.1 L903.6,434.1 L905.1,434.1 L906.6,434.1 L908.1,434.1 L909.6,434.1 L911.1,434.2 L912.5,434.3 L914.0,434.4 L915.4,434.6 L916.9,434.8 L918.3,435.1 L919.7,435.5 L921.1,435.9 L922.4,436.4 L923.8,437.0 L925.1,437.7 L926.5,438.4 L927.8,439.2 L929.1,440.0 L930.5,440.7 L931.8,441.5 L933.2,442.3 L934.5,443.0 L935.9,443.7 L937.3,444.3 L938.8,444.8 L940.2,445.2 L941.7,445.5 L943.2,445.7 L944.8,445.8 L946.4,445.9 L947.9,445.9 L949.5,446.0 L951.0,446.2 L952.5,446.5 L953.9,446.9 L955.3,447.6" fill="none" stroke="#000" stroke-width="5.6" stroke-linejoin="round" stroke-linecap="round" stroke-dasharray="14.20 12.59"/>
<path d="M962.2,408.8 L964.0,408.9 L965.7,409.0 L967.4,408.9 L969.0,408.8 L970.5,408.6 L972.0,408.3 L973.4,407.9 L974.8,407.5 L976.1,407.0 L977.4,406.4 L978.6,405.8 L979.8,405.1 L980.9,404.3 L982.0,403.5 L983.1,402.6 L984.1,401.7 L985.1,400.7 L986.0,399.7 L986.9,398.6 L987.8,397.5 L988.7,396.3 L989.5,395.2 L990.3,393.9 L991.1,392.7 L991.8,391.4 L992.6,390.1 L993.3,388.7 L994.0,387.4 L994.7,386.0 L995.4,384.6 L996.1,383.2 L996.7,381.8 L997.4,380.3 L998.1,378.9 L998.7,377.5 L999.4,376.0 L1000.1,374.6 L1000.7,373.2 L1001.4,371.7 L1002.1,370.3 L1002.8,368.9 L1003.5,367.5 L1004.2,366.2 L1005.0,364.8 L1005.7,363.5 L1006.5,362.2 L1007.3,360.9 L1008.1,359.6 L1009.0,358.4 L1009.8,357.2 L1010.7,355.9 L1011.5,354.7 L1012.4,353.6 L1013.3,352.4 L1014.2,351.2 L1015.1,350.0 L1016.0,348.9 L1016.9,347.7 L1017.8,346.6 L1018.7,345.4 L1019.6,344.2 L1020.4,343.1 L1021.3,341.9 L1022.2,340.7 L1023.1,339.5 L1023.9,338.3 L1024.8,337.1 L1025.6,335.9 L1026.4,334.7 L1027.3,333.5 L1028.1,332.2 L1028.9,331.0 L1029.7,329.7 L1030.5,328.4 L1031.3,327.2 L1032.0,325.9 L1032.8,324.6 L1033.6,323.3 L1034.3,322.0 L1035.1,320.7 L1035.8,319.4 L1036.5,318.1 L1037.2,316.8 L1038.0,315.4 L1038.7,314.1 L1039.4,312.8 L1040.1,311.4 L1040.8,310.1 L1041.5,308.7 L1042.1,307.4 L1042.8,306.0 L1043.5,304.7 L1044.2,303.3 L1044.8,301.9 L1045.5,300.6 L1046.2,299.2 L1046.8,297.8 L1047.5,296.5 L1048.1,295.1 L1048.8,293.7 L1049.4,292.4 L1050.1,291.0 L1050.7,289.6 L1051.4,288.2 L1052.0,286.9 L1052.7,285.5 L1053.3,284.1 L1054.0,282.8 L1054.6,281.4 L1055.3,280.0 L1056.0,278.7 L1056.6,277.3 L1057.3,276.0 L1058.0,274.6 L1058.7,273.3 L1059.4,271.9 L1060.1,270.6 L1060.8,269.2 L1061.5,267.9 L1062.2,266.6 L1062.9,265.2 L1063.6,263.9 L1064.4,262.6 L1065.1,261.3 L1065.9,260.0 L1066.6,258.7 L1067.4,257.4 L1068.2,256.1 L1069.0,254.9 L1069.8,253.6 L1070.6,252.3 L1071.4,251.1 L1072.3,249.8 L1073.1,248.6 L1074.0,247.4 L1074.9,246.2 L1075.8,245.0 L1076.7,243.8 L1077.6,242.6 L1078.6,241.4 L1079.5,240.2 L1080.5,239.1 L1081.5,237.9 L1082.5,236.8 L1083.5,235.7 L1084.5,234.6 L1085.6,233.5 L1086.7,232.4 L1087.8,231.3 L1088.9,230.2 L1090.0,229.2 L1091.2,228.2 L1092.4,227.2 L1093.6,226.2 L1094.8,225.2 L1096.0,224.3 L1097.3,223.4 L1098.5,222.6 L1099.8,221.8 L1101.1,221.1 L1102.4,220.4 L1103.7,219.9 L1105.1,219.3 L1106.4,218.9 L1107.8,218.6 L1109.1,218.3 L1110.5,218.2 L1111.9,218.1 L1113.3,218.2 L1114.7,218.3 L1116.0,218.5 L1117.4,218.8 L1118.8,219.2 L1120.1,219.7 L1121.5,220.2 L1122.8,220.8 L1124.1,221.5 L1125.4,222.2 L1126.7,223.0 L1127.9,223.8 L1129.1,224.7 L1130.2,225.7 L1131.3,226.7 L1132.4,227.7 L1133.5,228.8 L1134.5,229.9 L1135.6,231.1 L1136.5,232.3 L1137.5,233.5 L1138.5,234.7 L1139.4,236.0 L1140.3,237.3 L1141.2,238.6 L1142.0,239.9 L1142.9,241.3 L1143.7,242.6 L1144.5,244.0 L1145.4,245.4 L1146.2,246.7 L1147.0,248.1 L1147.7,249.5 L1148.5,250.8 L1149.3,252.2 L1150.1,253.5 L1150.9,254.9 L1151.6,256.2 L1152.4,257.5 L1153.2,258.8 L1153.9,260.1 L1154.7,261.3 L1155.5,262.6 L1156.2,263.8 L1157.0,265.1 L1157.8,266.4 L1158.5,267.6 L1159.3,268.9 L1160.1,270.1 L1160.8,271.4 L1161.6,272.6 L1162.3,273.9 L1163.1,275.2 L1163.9,276.4 L1164.6,277.7 L1165.4,279.0 L1166.1,280.3 L1166.9,281.6 L1167.6,282.9 L1168.4,284.2 L1169.2,285.5 L1169.9,286.8 L1170.7,288.1 L1171.4,289.4 L1172.2,290.7 L1172.9,292.0 L1173.7,293.3 L1174.4,294.6 L1175.2,295.9 L1176.0,297.2 L1176.7,298.5 L1177.5,299.8 L1178.3,301.1 L1179.0,302.4 L1179.8,303.7 L1180.5,305.0 L1181.3,306.3 L1182.1,307.6 L1182.9,308.9 L1183.6,310.2 L1184.4,311.5 L1185.2,312.8 L1186.0,314.1 L1186.7,315.4 L1187.5,316.7 L1188.3,318.0 L1189.1,319.3 L1189.9,320.5 L1190.7,321.8 L1191.5,323.1 L1192.3,324.4 L1193.1,325.6 L1193.9,326.9 L1194.7,328.2 L1195.5,329.4 L1196.3,330.7 L1197.1,332.0 L1197.9,333.2 L1198.7,334.5 L1199.5,335.7 L1200.4,337.0 L1201.2,338.2 L1202.0,339.5 L1202.9,340.7 L1203.7,342.0 L1204.5,343.2 L1205.4,344.5 L1206.2,345.7 L1207.1,346.9 L1207.9,348.2 L1208.8,349.4 L1209.7,350.6 L1210.5,351.8 L1211.4,353.1 L1212.3,354.3 L1213.1,355.5 L1214.0,356.7 L1214.9,357.9 L1215.8,359.1 L1216.7,360.3 L1217.6,361.5 L1218.5,362.7 L1219.4,363.9 L1220.3,365.1 L1221.2,366.3 L1222.2,367.5 L1223.1,368.7 L1224.0,369.9 L1225.0,371.1 L1225.9,372.3 L1226.9,373.4 L1227.8,374.6 L1228.8,375.8 L1229.7,376.9 L1230.7,378.1 L1231.7,379.3 L1232.6,380.4 L1233.6,381.6 L1234.6,382.7 L1235.6,383.8 L1236.6,385.0 L1237.6,386.1 L1238.6,387.2 L1239.7,388.3 L1240.7,389.5 L1241.7,390.6 L1242.7,391.7 L1243.8,392.8 L1244.8,393.8 L1245.9,394.9 L1246.9,396.0 L1248.0,397.1 L1249.1,398.1 L1250.2,399.2 L1251.2,400.2 L1252.3,401.3 L1253.4,402.3 L1254.5,403.3 L1255.6,404.3 L1256.8,405.3 L1257.9,406.3 L1259.0,407.3 L1260.1,408.3 L1261.3,409.3 L1262.4,410.2 L1263.6,411.2 L1264.8,412.1 L1265.9,413.1 L1267.1,414.0 L1268.3,414.9 L1269.5,415.8 L1270.7,416.7 L1271.9,417.6 L1273.1,418.5 L1274.3,419.4 L1275.6,420.2 L1276.8,421.0 L1278.0,421.9 L1279.3,422.7 L1280.6,423.5 L1281.8,424.3 L1283.1,425.1 L1284.4,425.9 L1285.7,426.6 L1287.0,427.4 L1288.3,428.1 L1289.6,428.8 L1290.9,429.6 L1292.2,430.3 L1293.6,430.9 L1294.9,431.6 L1296.3,432.3 L1297.6,432.9 L1299.0,433.6 L1300.4,434.2 L1301.8,434.8 L1303.2,435.4 L1304.6,435.9 L1306.0,436.5" fill="none" stroke="#FC2100" stroke-width="5.6" stroke-linejoin="round" stroke-linecap="round"/>
<path d="M961.4,421.0 L962.6,421.6 L963.8,422.4 L965.0,423.2 L966.3,424.0 L967.7,424.8 L969.1,425.7 L970.5,426.5 L971.9,427.3 L973.4,428.0 L974.8,428.6 L976.3,429.2 L977.8,429.6 L979.2,429.8 L980.6,429.9 L982.1,429.8 L983.5,429.5 L984.8,429.1 L986.2,428.6 L987.5,427.9 L988.8,427.1 L990.2,426.3 L991.5,425.4 L992.8,424.4 L994.1,423.5 L995.4,422.6 L996.6,421.7 L997.9,420.8 L999.3,420.0 L1000.6,419.4 L1001.9,418.8 L1003.2,418.3 L1004.6,418.0 L1005.9,417.8 L1007.3,417.7 L1008.6,417.8 L1010.0,418.0 L1011.4,418.3 L1012.8,418.8 L1014.2,419.3 L1015.6,419.9 L1017.0,420.4 L1018.4,421.0 L1019.8,421.5 L1021.3,421.9 L1022.8,422.2 L1024.2,422.5 L1025.7,422.7 L1027.2,422.8 L1028.7,422.9 L1030.1,422.9 L1031.6,422.9 L1033.0,422.8 L1034.5,422.7 L1035.9,422.5 L1037.4,422.3 L1038.8,422.0 L1040.2,421.8 L1041.7,421.4 L1043.1,421.1 L1044.5,420.7 L1045.9,420.3 L1047.3,419.9 L1048.7,419.4 L1050.1,418.9 L1051.5,418.4 L1052.9,417.9 L1054.4,417.4 L1055.8,416.8 L1057.2,416.2 L1058.6,415.7 L1060.0,415.1 L1061.4,414.5 L1062.8,413.9 L1064.2,413.3 L1065.6,412.7 L1067.0,412.1 L1068.5,411.5 L1069.9,410.9 L1071.3,410.3 L1072.7,409.7 L1074.2,409.2 L1075.6,408.6 L1077.1,408.1 L1078.5,407.5 L1080.0,407.0 L1081.4,406.5 L1082.9,406.0 L1084.4,405.5 L1085.8,405.0 L1087.3,404.6 L1088.8,404.1 L1090.3,403.7 L1091.7,403.3 L1093.2,402.9 L1094.7,402.5 L1096.2,402.2 L1097.7,401.9 L1099.2,401.5 L1100.6,401.2 L1102.1,401.0 L1103.6,400.7 L1105.1,400.5 L1106.6,400.3 L1108.1,400.1 L1109.6,399.9 L1111.1,399.8 L1112.5,399.6 L1114.0,399.6 L1115.5,399.5 L1117.0,399.4 L1118.5,399.4 L1120.0,399.4 L1121.4,399.5 L1122.9,399.6 L1124.4,399.6 L1125.9,399.8 L1127.3,399.9 L1128.8,400.1 L1130.3,400.3 L1131.7,400.5 L1133.2,400.7 L1134.7,401.0 L1136.1,401.3 L1137.6,401.6 L1139.0,401.9 L1140.5,402.2 L1141.9,402.6 L1143.4,403.0 L1144.8,403.3 L1146.3,403.7 L1147.7,404.2 L1149.2,404.6 L1150.6,405.0 L1152.1,405.5 L1153.5,405.9 L1155.0,406.4 L1156.4,406.9 L1157.8,407.4 L1159.3,407.9 L1160.7,408.4 L1162.1,408.9 L1163.6,409.4 L1165.0,409.9 L1166.4,410.5 L1167.9,411.0 L1169.3,411.5 L1170.7,412.1 L1172.2,412.6 L1173.6,413.1 L1175.0,413.7 L1176.4,414.2 L1177.8,414.7 L1179.3,415.2 L1180.7,415.8 L1182.1,416.3 L1183.5,416.8 L1185.0,417.3 L1186.4,417.8 L1187.8,418.3 L1189.2,418.8 L1190.6,419.3 L1192.0,419.8 L1193.5,420.3 L1194.9,420.8 L1196.3,421.3 L1197.7,421.7 L1199.1,422.2 L1200.6,422.7 L1202.0,423.2 L1203.4,423.7 L1204.8,424.1 L1206.3,424.6 L1207.7,425.1 L1209.1,425.5 L1210.5,426.0 L1212.0,426.4 L1213.4,426.9 L1214.8,427.3 L1216.2,427.8 L1217.7,428.2 L1219.1,428.7 L1220.5,429.1 L1222.0,429.6 L1223.4,430.0 L1224.9,430.5 L1226.3,430.9 L1227.7,431.3 L1229.2,431.8 L1230.6,432.2 L1232.1,432.6 L1233.5,433.0 L1235.0,433.4 L1236.4,433.9 L1237.9,434.3 L1239.3,434.7 L1240.8,435.1 L1242.3,435.5 L1243.7,435.9 L1245.2,436.3 L1246.6,436.6 L1248.1,437.0 L1249.6,437.4 L1251.0,437.8 L1252.5,438.1 L1254.0,438.5 L1255.4,438.9 L1256.9,439.2 L1258.4,439.6 L1259.8,439.9 L1261.3,440.2 L1262.8,440.6 L1264.3,440.9 L1265.7,441.2 L1267.2,441.5 L1268.7,441.8 L1270.2,442.1 L1271.7,442.4 L1273.1,442.7 L1274.6,443.0 L1276.1,443.2 L1277.6,443.5 L1279.1,443.8 L1280.6,444.0 L1282.1,444.3 L1283.5,444.5 L1285.0,444.7 L1286.5,444.9 L1288.0,445.1 L1289.5,445.3 L1291.0,445.5 L1292.5,445.7 L1294.0,445.9 L1295.5,446.1 L1297.0,446.2 L1298.5,446.4 L1300.0,446.5 L1301.5,446.7 L1303.0,446.8 L1304.5,446.9 L1306.0,447.0" fill="none" stroke="#000" stroke-width="5.6" stroke-linejoin="round" stroke-linecap="round"/>
<path d="M112.9,885.6 L114.2,884.8 L115.6,883.9 L116.9,883.1 L118.1,882.2 L119.4,881.3 L120.7,880.4 L121.9,879.5 L123.1,878.6 L124.3,877.6 L125.5,876.7 L126.7,875.7 L127.8,874.7 L129.0,873.7 L130.1,872.7 L131.2,871.7 L132.3,870.6 L133.4,869.6 L134.4,868.5 L135.5,867.5 L136.5,866.4 L137.5,865.3 L138.5,864.2 L139.5,863.1 L140.5,862.0 L141.5,860.8 L142.4,859.7 L143.4,858.6 L144.3,857.4 L145.2,856.2 L146.2,855.0 L147.1,853.9 L148.0,852.7 L148.8,851.5 L149.7,850.2 L150.6,849.0 L151.4,847.8 L152.3,846.6 L153.1,845.3 L153.9,844.1 L154.7,842.8 L155.5,841.5 L156.3,840.3 L157.1,839.0 L157.9,837.7 L158.7,836.4 L159.5,835.1 L160.2,833.8 L161.0,832.5 L161.7,831.2 L162.5,829.9 L163.2,828.6 L163.9,827.2 L164.7,825.9 L165.4,824.6 L166.1,823.2 L166.8,821.9 L167.5,820.6 L168.2,819.2 L168.9,817.9 L169.6,816.5 L170.3,815.2 L171.0,813.8 L171.7,812.4 L172.4,811.1 L173.1,809.7 L173.8,808.3 L174.5,807.0 L175.1,805.6 L175.8,804.3 L176.5,802.9 L177.2,801.5 L177.8,800.1 L178.5,798.8 L179.2,797.4 L179.9,796.0 L180.6,794.7 L181.2,793.3 L181.9,791.9 L182.6,790.6 L183.3,789.2 L184.0,787.9 L184.7,786.5 L185.3,785.1 L186.0,783.8 L186.7,782.4 L187.4,781.1 L188.1,779.8 L188.8,778.4 L189.5,777.1 L190.3,775.7 L191.0,774.4 L191.7,773.1 L192.4,771.8 L193.2,770.4 L193.9,769.1 L194.7,767.8 L195.4,766.5 L196.2,765.2 L196.9,763.9 L197.7,762.6 L198.5,761.3 L199.3,760.1 L200.1,758.8 L200.9,757.5 L201.7,756.3 L202.6,755.0 L203.4,753.8 L204.2,752.5 L205.1,751.3 L206.0,750.1 L206.9,748.9 L207.8,747.7 L208.7,746.5 L209.6,745.3 L210.5,744.1 L211.5,743.0 L212.5,741.8 L213.4,740.7 L214.4,739.6 L215.5,738.5 L216.5,737.4 L217.5,736.3 L218.6,735.3 L219.7,734.2 L220.8,733.2 L221.9,732.2 L223.0,731.2 L224.1,730.2 L225.3,729.2 L226.4,728.2 L227.6,727.3 L228.8,726.3 L230.0,725.4 L231.2,724.5 L232.4,723.6 L233.6,722.7 L234.9,721.8 L236.1,720.9 L237.4,720.1 L238.6,719.2 L239.9,718.4 L241.2,717.6 L242.5,716.7 L243.8,715.9 L245.1,715.1 L246.4,714.3 L247.7,713.6 L249.0,712.8 L249.0,712.8 L250.5,713.5 L251.9,714.3 L253.2,715.4 L254.4,716.5 L255.6,717.6 L256.8,718.6 L257.9,719.4 L259.1,720.0 L260.4,720.3 L261.8,720.3 L263.2,720.0 L264.6,719.5 L266.2,719.0 L267.7,718.4 L269.3,718.0 L271.0,717.7 L272.6,717.7 L272.6,717.7 L273.1,719.1 L273.6,720.5 L274.1,722.0 L274.5,723.4 L275.0,724.8 L275.4,726.3 L275.8,727.7 L276.2,729.2 L276.7,730.6 L277.0,732.1 L277.4,733.5 L277.8,735.0 L278.2,736.5 L278.6,737.9 L278.9,739.4 L279.3,740.9 L279.6,742.3 L279.9,743.8 L280.3,745.3 L280.6,746.8 L280.9,748.3 L281.2,749.7 L281.5,751.2 L281.8,752.7 L282.2,754.2 L282.5,755.7 L282.8,757.2 L283.0,758.7 L283.3,760.2 L283.6,761.7 L283.9,763.1 L284.2,764.6 L284.5,766.1 L284.8,767.6 L285.1,769.1 L285.4,770.6 L285.7,772.1 L286.0,773.6 L286.3,775.1 L286.6,776.6 L286.9,778.1 L287.2,779.6 L287.5,781.1 L287.9,782.5 L288.2,784.0 L288.5,785.5 L288.9,787.0 L289.2,788.5 L289.5,790.0 L289.9,791.4 L290.3,792.9 L290.6,794.4 L291.0,795.8 L291.4,797.3 L291.8,798.8 L292.2,800.2 L292.6,801.7 L293.0,803.2 L293.4,804.6 L293.9,806.1 L294.3,807.5 L294.8,809.0 L295.2,810.4 L295.7,811.9 L296.1,813.3 L296.6,814.8 L297.1,816.2 L297.6,817.7 L298.1,819.1 L298.5,820.5 L299.1,822.0 L299.6,823.4 L300.1,824.8 L300.6,826.3 L301.1,827.7 L301.7,829.1 L302.2,830.5 L302.7,831.9 L303.3,833.4 L303.8,834.8 L304.4,836.2 L305.0,837.6 L305.5,839.0 L306.1,840.4 L306.7,841.8 L307.3,843.2 L307.8,844.7 L308.4,846.1 L309.0,847.5 L309.6,848.9 L310.2,850.3 L310.9,851.7 L311.5,853.0 L312.1,854.4 L312.7,855.8 L313.3,857.2 L314.0,858.6 L314.6,860.0" fill="none" stroke="#FC2100" stroke-width="5.6" stroke-linejoin="round" stroke-linecap="round" stroke-dasharray="14.20 11.45"/>
<path d="M112.9,919.8 L114.4,919.4 L115.8,919.1 L117.3,918.7 L118.7,918.2 L120.2,917.8 L121.6,917.4 L123.0,916.9 L124.5,916.4 L125.9,915.9 L127.3,915.4 L128.7,914.8 L130.1,914.3 L131.5,913.7 L132.9,913.1 L134.3,912.5 L135.7,911.9 L137.1,911.3 L138.5,910.7 L139.9,910.1 L141.2,909.4 L142.6,908.7 L144.0,908.1 L145.4,907.4 L146.7,906.7 L148.1,906.0 L149.5,905.3 L150.8,904.6 L152.2,903.9 L153.5,903.2 L154.9,902.5 L156.2,901.8 L157.6,901.1 L159.0,900.3 L160.3,899.6 L161.7,898.9 L163.0,898.2 L164.4,897.4 L165.7,896.7 L167.1,896.0 L168.4,895.3 L169.8,894.5 L171.1,893.8 L172.5,893.1 L173.8,892.4 L175.2,891.7 L176.6,891.0 L177.9,890.3 L179.3,889.6 L180.6,888.9 L182.0,888.2 L183.4,887.6 L184.7,886.9 L186.1,886.3 L187.5,885.6 L188.8,885.0 L190.2,884.4 L191.6,883.8 L193.0,883.2 L194.4,882.6 L195.7,882.1 L197.1,881.5 L198.5,881.0 L199.9,880.5 L201.3,880.0 L202.7,879.5 L204.2,879.0 L205.6,878.6 L207.0,878.1 L208.4,877.7 L209.8,877.3 L211.3,877.0 L212.7,876.6 L214.2,876.3 L215.6,876.0 L217.1,875.7 L218.5,875.4 L220.0,875.2 L221.5,875.0 L223.0,874.8 L224.5,874.6 L225.9,874.5 L227.4,874.4 L229.0,874.3 L230.5,874.2 L232.0,874.2 L233.5,874.2 L235.1,874.2 L236.6,874.3 L238.2,874.4 L239.7,874.5 L241.3,874.7 L242.9,874.8 L244.4,875.0 L246.0,875.3 L247.6,875.5 L249.2,875.8 L250.8,876.0 L252.4,876.3 L253.9,876.6 L255.5,876.8 L257.1,877.1 L258.6,877.4 L260.1,877.6 L261.7,877.8 L263.2,878.0 L264.7,878.2 L266.1,878.4 L267.5,878.7 L268.9,879.0 L270.2,879.4 L271.5,880.0 L272.7,880.6 L273.8,881.4 L274.9,882.2 L276.0,883.2 L277.0,884.2 L278.0,885.3 L278.9,886.4 L279.9,887.6 L280.8,888.8 L281.8,890.0 L282.7,891.2 L283.7,892.5 L284.6,893.7 L285.6,894.8 L286.7,896.0 L287.7,897.1 L288.8,898.2 L289.8,899.3 L290.9,900.3 L292.1,901.4 L293.2,902.4 L294.4,903.4 L295.5,904.3 L296.7,905.3 L297.9,906.2 L299.2,907.1 L300.4,907.9 L301.7,908.8 L302.9,909.6 L304.2,910.4 L305.5,911.2 L306.8,912.0 L308.1,912.8 L309.4,913.5 L310.8,914.2 L312.1,914.9 L313.5,915.6 L314.9,916.3 L316.2,916.9 L317.6,917.6 L319.0,918.2" fill="none" stroke="#000" stroke-width="5.6" stroke-linejoin="round" stroke-linecap="round" stroke-dasharray="14.20 12.82"/>
<path d="M318.3,858.1 L319.0,856.7 L319.7,855.3 L320.3,853.9 L321.0,852.5 L321.6,851.1 L322.2,849.7 L322.9,848.3 L323.5,846.9 L324.1,845.5 L324.7,844.1 L325.2,842.7 L325.8,841.2 L326.4,839.8 L326.9,838.4 L327.5,837.0 L328.0,835.6 L328.6,834.2 L329.1,832.8 L329.6,831.4 L330.1,830.0 L330.6,828.6 L331.1,827.1 L331.6,825.7 L332.1,824.3 L332.6,822.9 L333.1,821.5 L333.6,820.1 L334.0,818.7 L334.5,817.2 L335.0,815.8 L335.4,814.4 L335.9,813.0 L336.3,811.6 L336.8,810.2 L337.2,808.7 L337.7,807.3 L338.1,805.9 L338.5,804.5 L339.0,803.1 L339.4,801.6 L339.8,800.2 L340.3,798.8 L340.7,797.4 L341.1,796.0 L341.5,794.5 L342.0,793.1 L342.4,791.7 L342.8,790.3 L343.3,788.9 L343.7,787.4 L344.1,786.0 L344.5,784.6 L345.0,783.2 L345.4,781.8 L345.8,780.3 L346.3,778.9 L346.7,777.5 L347.2,776.1 L347.6,774.6 L348.0,773.2 L348.5,771.8 L348.9,770.4 L349.4,768.9 L349.9,767.5 L350.3,766.1 L350.8,764.7 L351.3,763.3 L351.8,761.8 L352.2,760.4 L352.7,759.0 L353.2,757.6 L353.7,756.1 L354.2,754.7 L354.8,753.3 L355.3,751.9 L355.8,750.4 L356.3,749.0 L356.9,747.6 L357.4,746.2 L358.0,744.8 L358.6,743.3 L359.1,741.9 L359.7,740.5 L360.3,739.1 L360.9,737.6 L361.5,736.2 L362.2,734.8 L362.8,733.4 L363.4,732.0 L364.1,730.5 L364.7,729.1 L365.4,727.7 L366.1,726.3 L366.8,724.9 L367.5,723.4 L368.2,722.0 L369.0,720.6 L369.7,719.2 L370.5,717.8 L371.2,716.4 L372.0,715.0 L372.8,713.6 L373.6,712.3 L374.5,711.0 L375.4,709.7 L376.2,708.4 L377.1,707.2 L378.1,706.0 L379.0,704.9 L380.0,703.8 L381.0,702.7 L382.0,701.7 L383.1,700.8 L384.2,699.9 L385.3,699.0 L386.4,698.3 L387.6,697.6 L388.8,696.9 L390.0,696.4 L391.3,695.9 L392.6,695.5 L394.0,695.1 L395.3,694.9 L396.7,694.7 L398.1,694.7 L399.6,694.7 L401.0,694.7 L402.4,694.9 L403.9,695.2 L405.3,695.5 L406.7,695.9 L408.0,696.5 L409.4,697.1 L410.6,697.7 L411.9,698.5 L413.1,699.3 L414.3,700.2 L415.5,701.2 L416.6,702.2 L417.7,703.3 L418.8,704.4 L419.8,705.5 L420.8,706.7 L421.8,707.9 L422.8,709.2 L423.7,710.5 L424.7,711.7 L425.6,713.0 L426.4,714.3 L427.3,715.6 L428.1,716.9 L429.0,718.2 L429.8,719.6 L430.6,720.9 L431.3,722.2 L432.1,723.5 L432.9,724.9 L433.6,726.2 L434.3,727.5 L435.1,728.8 L435.8,730.2 L436.5,731.5 L437.2,732.9 L437.9,734.2 L438.6,735.5 L439.3,736.9 L439.9,738.2 L440.6,739.6 L441.3,740.9 L441.9,742.3 L442.6,743.6 L443.2,745.0 L443.9,746.3 L444.5,747.7 L445.2,749.0 L445.8,750.4 L446.4,751.7 L447.1,753.1 L447.7,754.4 L448.3,755.8 L449.0,757.1 L449.6,758.5 L450.2,759.8 L450.9,761.2 L451.5,762.5 L452.2,763.9 L452.8,765.2 L453.5,766.6 L454.1,767.9 L454.8,769.3 L455.4,770.6 L456.1,772.0 L456.7,773.3 L457.4,774.7 L458.1,776.0 L458.7,777.4 L459.4,778.7 L460.1,780.1 L460.7,781.4 L461.4,782.7 L462.1,784.1 L462.8,785.4 L463.5,786.8 L464.2,788.1 L464.8,789.5 L465.5,790.8 L466.2,792.1 L466.9,793.5 L467.6,794.8 L468.3,796.2 L469.0,797.5 L469.7,798.8 L470.4,800.2 L471.1,801.5 L471.8,802.9 L472.5,804.2 L473.2,805.5 L473.9,806.9 L474.6,808.2 L475.3,809.5 L476.0,810.9 L476.7,812.2 L477.4,813.6 L478.1,814.9 L478.8,816.2 L479.5,817.6 L480.2,818.9 L480.9,820.2 L481.6,821.6 L482.3,822.9 L483.0,824.3 L483.7,825.6 L484.4,826.9 L485.1,828.3 L485.8,829.6 L486.5,830.9 L487.2,832.3 L487.9,833.6 L488.6,835.0 L489.4,836.3 L490.1,837.6 L490.8,839.0 L491.5,840.3 L492.2,841.6 L492.9,842.9 L493.6,844.3 L494.4,845.6 L495.1,846.9 L495.8,848.2 L496.6,849.5 L497.3,850.8 L498.1,852.1 L498.8,853.4 L499.6,854.7 L500.4,856.0 L501.1,857.3 L501.9,858.6 L502.7,859.9 L503.5,861.1 L504.3,862.4 L505.1,863.7 L506.0,864.9 L506.8,866.2 L507.7,867.4 L508.5,868.6 L509.4,869.9 L510.3,871.1 L511.2,872.3 L512.1,873.5 L513.0,874.7 L513.9,875.9 L514.9,877.1 L515.8,878.3 L516.8,879.4 L517.8,880.6 L518.8,881.7 L519.8,882.9 L520.8,884.0 L521.8,885.1 L522.9,886.2 L523.9,887.3 L525.0,888.4 L526.1,889.4 L527.2,890.5 L528.3,891.5 L529.4,892.5 L530.5,893.6 L531.6,894.6 L532.8,895.5 L533.9,896.5 L535.1,897.4 L536.3,898.4 L537.5,899.3 L538.7,900.2 L539.9,901.1 L541.1,901.9 L542.4,902.8 L543.6,903.6 L544.9,904.4 L546.1,905.2 L547.4,906.0 L548.7,906.7 L550.0,907.5 L551.3,908.2 L552.6,908.9 L553.9,909.5 L555.3,910.2 L556.6,910.8 L557.9,911.4 L559.3,912.0 L560.7,912.6 L562.0,913.2 L563.4,913.7 L564.8,914.2 L566.2,914.7 L567.6,915.2 L569.0,915.7 L570.5,916.2 L571.9,916.6 L573.3,917.1 L574.8,917.5 L576.2,917.9 L577.7,918.3 L579.1,918.7 L580.6,919.0 L582.0,919.4 L583.5,919.7 L585.0,920.0 L586.5,920.4 L588.0,920.7 L589.4,921.0 L590.9,921.2 L592.4,921.5 L593.9,921.8 L595.4,922.0 L596.9,922.3 L598.5,922.5 L600.0,922.7 L601.5,923.0 L603.0,923.2 L604.5,923.4 L606.0,923.6 L607.6,923.8 L609.1,923.9 L610.6,924.1 L612.1,924.3 L613.7,924.5 L615.2,924.6 L616.7,924.8 L618.3,924.9 L619.8,925.1 L621.3,925.2 L622.8,925.4 L624.4,925.5 L625.9,925.6 L627.4,925.8 L628.9,925.9 L630.5,926.0 L632.0,926.1 L633.5,926.3 L635.0,926.4 L636.5,926.5 L638.0,926.6 L639.5,926.7 L641.0,926.9 L642.5,927.0 L644.0,927.1 L645.5,927.2 L647.0,927.4 L648.5,927.5 L650.0,927.6 L651.5,927.8 L652.9,927.9 L654.4,928.1 L655.9,928.2 L657.3,928.3 L658.8,928.5 L660.2,928.7 L661.7,928.8 L663.1,929.0" fill="none" stroke="#FC2100" stroke-width="5.6" stroke-linejoin="round" stroke-linecap="round"/>
<path d="M319.0,918.2 L320.3,917.5 L321.6,916.8 L322.9,916.1 L324.1,915.3 L325.4,914.6 L326.6,913.8 L327.9,913.0 L329.1,912.2 L330.4,911.4 L331.6,910.6 L332.8,909.7 L334.0,908.9 L335.3,908.0 L336.5,907.2 L337.7,906.3 L338.9,905.4 L340.1,904.5 L341.3,903.6 L342.5,902.7 L343.7,901.7 L344.9,900.8 L346.1,899.9 L347.3,899.0 L348.5,898.0 L349.7,897.1 L350.9,896.1 L352.1,895.2 L353.3,894.2 L354.5,893.3 L355.7,892.4 L356.9,891.4 L358.2,890.5 L359.4,889.5 L360.6,888.6 L361.8,887.7 L363.1,886.7 L364.3,885.8 L365.5,884.9 L366.8,884.0 L368.0,883.1 L369.3,882.2 L370.6,881.3 L371.8,880.4 L373.1,879.6 L374.4,878.7 L375.7,877.9 L377.0,877.0 L378.3,876.2 L379.6,875.4 L380.9,874.6 L382.3,873.8 L383.6,873.1 L384.9,872.3 L386.3,871.6 L387.6,870.8 L389.0,870.1 L390.3,869.5 L391.7,868.8 L393.1,868.1 L394.5,867.5 L395.8,866.9 L397.2,866.3 L398.6,865.8 L400.0,865.2 L401.4,864.7 L402.9,864.2 L404.3,863.7 L405.7,863.3 L407.1,862.9 L408.6,862.5 L410.0,862.1 L411.5,861.7 L412.9,861.4 L414.4,861.1 L415.8,860.9 L417.3,860.6 L418.8,860.4 L420.2,860.2 L421.7,860.1 L423.2,859.9 L424.6,859.8 L426.1,859.7 L427.6,859.7 L429.1,859.6 L430.5,859.6 L432.0,859.7 L433.5,859.7 L434.9,859.8 L436.4,859.9 L437.9,860.0 L439.3,860.2 L440.8,860.4 L442.3,860.6 L443.7,860.8 L445.2,861.1 L446.6,861.4 L448.0,861.7 L449.5,862.1 L450.9,862.4 L452.3,862.8 L453.8,863.3 L455.2,863.7 L456.6,864.2 L458.0,864.7 L459.4,865.2 L460.8,865.7 L462.2,866.3 L463.6,866.8 L465.0,867.4 L466.4,868.0 L467.7,868.6 L469.1,869.3 L470.5,869.9 L471.9,870.6 L473.2,871.3 L474.6,872.0 L475.9,872.7 L477.3,873.4 L478.6,874.1 L480.0,874.8 L481.3,875.6 L482.6,876.3 L484.0,877.1 L485.3,877.8 L486.6,878.6 L488.0,879.4 L489.3,880.2 L490.6,881.0 L491.9,881.7 L493.2,882.5 L494.5,883.3 L495.8,884.1 L497.1,884.9 L498.4,885.7 L499.7,886.6 L501.0,887.4 L502.3,888.2 L503.6,889.0 L504.9,889.8 L506.2,890.6 L507.5,891.4 L508.8,892.2 L510.1,893.0 L511.4,893.8 L512.7,894.6 L514.0,895.4 L515.3,896.2 L516.6,897.0 L517.9,897.8 L519.2,898.6 L520.5,899.3 L521.8,900.1 L523.1,900.9 L524.4,901.6 L525.7,902.4 L527.0,903.1 L528.3,903.9 L529.6,904.6 L531.0,905.3 L532.3,906.1 L533.6,906.8 L534.9,907.5 L536.3,908.2 L537.6,908.8 L538.9,909.5 L540.3,910.2 L541.6,910.8 L543.0,911.4 L544.3,912.1 L545.7,912.7 L547.0,913.3 L548.4,913.9 L549.8,914.4 L551.2,915.0 L552.5,915.5 L553.9,916.1 L555.3,916.6 L556.7,917.1 L558.2,917.6 L559.6,918.0 L561.0,918.5 L562.4,918.9 L563.9,919.3 L565.3,919.7 L566.7,920.1 L568.2,920.5 L569.7,920.9 L571.1,921.2 L572.6,921.5 L574.1,921.9 L575.5,922.2 L577.0,922.5 L578.5,922.8 L580.0,923.0 L581.5,923.3 L583.0,923.6 L584.5,923.8 L586.0,924.0 L587.5,924.2 L589.0,924.5 L590.5,924.7 L592.0,924.9 L593.5,925.0 L595.1,925.2 L596.6,925.4 L598.1,925.5 L599.6,925.7 L601.2,925.8 L602.7,926.0 L604.2,926.1 L605.7,926.2 L607.3,926.4 L608.8,926.5 L610.3,926.6 L611.9,926.7 L613.4,926.8 L614.9,926.9 L616.5,927.0 L618.0,927.0 L619.5,927.1 L621.1,927.2 L622.6,927.3 L624.1,927.4 L625.7,927.4 L627.2,927.5 L628.7,927.6 L630.3,927.6 L631.8,927.7 L633.3,927.7 L634.8,927.8 L636.3,927.9 L637.9,927.9 L639.4,928.0 L640.9,928.1 L642.4,928.1 L643.9,928.2 L645.4,928.3 L646.9,928.3 L648.4,928.4 L649.9,928.5 L651.4,928.5 L652.9,928.6 L654.3,928.7 L655.8,928.8 L657.3,928.9 L658.7,929.0 L660.2,929.1 L661.7,929.2 L663.1,929.3" fill="none" stroke="#000" stroke-width="5.6" stroke-linejoin="round" stroke-linecap="round"/>
<path d="M755.3,897.1 L756.8,897.0 L758.4,896.8 L759.9,896.6 L761.4,896.4 L762.9,896.3 L764.4,896.1 L766.0,895.9 L767.5,895.6 L769.0,895.4 L770.5,895.2 L772.0,894.9 L773.5,894.6 L775.0,894.4 L776.5,894.1 L778.0,893.8 L779.5,893.5 L780.9,893.2 L782.4,892.9 L783.9,892.5 L785.4,892.2 L786.9,891.8 L788.3,891.5 L789.8,891.1 L791.3,890.7 L792.7,890.3 L794.2,889.9 L795.6,889.5 L797.1,889.1 L798.6,888.7 L800.0,888.2 L801.5,887.8 L802.9,887.3 L804.3,886.9 L805.8,886.4 L807.2,885.9 L808.6,885.4 L810.1,884.9 L811.5,884.4 L812.9,883.9 L814.3,883.4 L815.7,882.8 L817.2,882.3 L818.6,881.7 L820.0,881.2 L821.4,880.6 L822.8,880.0 L824.2,879.4 L825.6,878.8 L827.0,878.2 L828.4,877.6 L829.7,877.0 L831.1,876.3 L832.5,875.7 L833.9,875.0 L835.2,874.4 L836.6,873.7 L838.0,873.1 L839.3,872.4 L840.7,871.7 L842.1,871.0 L843.4,870.3 L844.8,869.7 L846.2,869.0 L847.5,868.3 L848.9,867.6 L850.3,867.0 L851.6,866.3 L853.0,865.7 L854.4,865.0 L855.7,864.4 L857.1,863.8 L858.5,863.2 L859.9,862.6 L861.3,862.1 L862.7,861.5 L864.1,861.0 L865.5,860.5 L867.0,860.0 L868.4,859.5 L869.8,859.1 L871.3,858.6 L872.8,858.2 L874.2,857.9 L875.7,857.5 L877.2,857.2 L878.7,856.9 L880.2,856.6 L881.7,856.3 L883.2,856.0 L884.7,855.7 L886.2,855.5 L887.7,855.2 L889.2,854.9 L890.7,854.7 L892.2,854.4 L892.2,854.4 L893.7,855.3 L895.3,856.1 L896.9,856.6 L898.6,857.0 L900.2,857.2 L901.9,857.3 L903.7,857.2 L905.4,857.1 L907.1,856.8 L908.8,856.5 L910.5,856.0 L912.1,855.5 L913.7,855.0 L915.3,854.4 L915.3,854.4 L916.4,855.5 L917.4,856.6 L918.4,857.8 L919.4,859.0 L920.3,860.2 L921.2,861.5 L922.1,862.7 L923.0,864.0 L923.9,865.3 L924.8,866.6 L925.6,867.9 L926.5,869.2 L927.3,870.5 L928.2,871.8 L929.1,873.1 L929.9,874.4 L930.8,875.7 L931.7,876.9 L932.7,878.2 L933.6,879.4 L934.6,880.6 L935.6,881.8 L936.7,882.9 L937.8,884.0 L938.9,885.1 L940.1,886.1 L941.3,887.1 L942.5,888.1 L943.7,889.1 L945.0,890.0 L946.3,891.0 L947.6,891.9 L948.9,892.8 L950.2,893.7 L951.5,894.5 L952.9,895.4 L954.2,896.3 L955.5,897.2 L956.8,898.0 L958.1,898.9 L959.4,899.8 L960.7,900.7" fill="none" stroke="#FC2100" stroke-width="5.6" stroke-linejoin="round" stroke-linecap="round" stroke-dasharray="14.20 13.27"/>
<path d="M755.3,928.2 L756.8,928.1 L758.3,928.0 L759.8,927.9 L761.3,927.8 L762.8,927.6 L764.3,927.5 L765.8,927.4 L767.3,927.2 L768.8,927.0 L770.3,926.9 L771.8,926.7 L773.3,926.5 L774.8,926.3 L776.3,926.2 L777.9,926.0 L779.4,925.8 L780.9,925.6 L782.4,925.4 L783.9,925.2 L785.4,924.9 L786.9,924.7 L788.4,924.5 L789.9,924.3 L791.4,924.1 L792.9,923.8 L794.4,923.6 L795.9,923.4 L797.4,923.1 L798.9,922.9 L800.4,922.7 L801.9,922.4 L803.4,922.2 L804.9,922.0 L806.4,921.7 L807.9,921.5 L809.4,921.3 L810.9,921.0 L812.4,920.8 L813.9,920.6 L815.4,920.3 L816.9,920.1 L818.4,919.9 L819.9,919.7 L821.4,919.5 L822.9,919.3 L824.4,919.1 L826.0,918.8 L827.5,918.6 L829.0,918.5 L830.5,918.3 L832.0,918.1 L833.5,917.9 L835.0,917.7 L836.5,917.6 L838.0,917.4 L839.5,917.2 L841.0,917.1 L842.5,917.0 L844.0,916.8 L845.5,916.7 L847.0,916.6 L848.5,916.5 L850.0,916.4 L851.5,916.3 L853.0,916.2 L854.5,916.1 L856.0,916.1 L857.5,916.0 L859.0,916.0 L860.5,915.9 L862.0,915.9 L863.5,915.9 L865.1,915.9 L866.6,915.9 L868.1,915.9 L869.6,916.0 L871.1,916.0 L872.6,916.1 L874.1,916.1 L875.6,916.2 L877.1,916.3 L878.6,916.4 L880.1,916.5 L881.6,916.6 L883.1,916.7 L884.6,916.9 L886.1,917.0 L887.6,917.2 L889.1,917.3 L890.6,917.5 L892.1,917.7 L893.6,917.8 L895.1,918.0 L896.6,918.2 L898.1,918.4 L899.7,918.6 L901.2,918.8 L902.7,919.0 L904.2,919.3 L905.7,919.5 L907.2,919.7 L908.7,920.0 L910.2,920.2 L911.7,920.4 L913.2,920.7 L914.7,920.9 L916.2,921.2 L917.7,921.4 L919.2,921.7 L920.7,921.9 L922.2,922.2 L923.7,922.5 L925.2,922.7 L926.7,923.0 L928.2,923.2 L929.7,923.5 L931.2,923.8 L932.6,924.0 L934.1,924.3 L935.6,924.6 L937.1,924.8 L938.6,925.1 L940.1,925.3 L941.6,925.6 L943.1,925.8 L944.6,926.1 L946.1,926.3 L947.6,926.6 L949.1,926.8 L950.6,927.1 L952.1,927.3 L953.5,927.5 L955.0,927.8 L956.5,928.0 L958.0,928.2" fill="none" stroke="#000" stroke-width="5.6" stroke-linejoin="round" stroke-linecap="round" stroke-dasharray="14.20 12.97"/>
<path d="M961.9,886.7 L963.6,887.6 L965.2,888.3 L966.8,888.8 L968.4,889.2 L969.9,889.5 L971.4,889.7 L972.8,889.7 L974.2,889.7 L975.6,889.5 L977.0,889.2 L978.3,888.8 L979.6,888.3 L980.9,887.8 L982.1,887.1 L983.3,886.4 L984.5,885.6 L985.7,884.8 L986.8,883.9 L987.9,882.9 L989.1,881.9 L990.1,880.8 L991.2,879.7 L992.3,878.6 L993.3,877.4 L994.4,876.3 L995.4,875.1 L996.4,873.9 L997.4,872.7 L998.4,871.5 L999.4,870.3 L1000.4,869.1 L1001.4,868.0 L1002.4,866.8 L1003.3,865.7 L1004.3,864.6 L1005.3,863.5 L1006.3,862.4 L1007.3,861.3 L1008.3,860.2 L1009.3,859.1 L1010.4,858.1 L1011.4,857.1 L1012.5,856.1 L1013.5,855.1 L1014.6,854.1 L1015.8,853.1 L1016.9,852.2 L1018.0,851.2 L1019.1,850.3 L1020.2,849.3 L1021.3,848.3 L1022.4,847.3 L1023.4,846.2 L1024.5,845.1 L1025.5,844.0 L1026.5,842.9 L1027.4,841.7 L1028.4,840.6 L1029.3,839.4 L1030.3,838.2 L1031.2,837.0 L1032.1,835.8 L1033.0,834.6 L1033.9,833.4 L1034.7,832.1 L1035.6,830.9 L1036.5,829.7 L1037.3,828.4 L1038.2,827.2 L1039.0,825.9 L1039.9,824.7 L1040.7,823.4 L1041.6,822.2 L1042.4,820.9 L1043.2,819.7 L1044.0,818.4 L1044.9,817.2 L1045.7,815.9 L1046.5,814.7 L1047.3,813.4 L1048.1,812.1 L1048.9,810.9 L1049.7,809.6 L1050.5,808.3 L1051.3,807.1 L1052.1,805.8 L1052.9,804.5 L1053.7,803.3 L1054.5,802.0 L1055.3,800.7 L1056.1,799.5 L1056.9,798.2 L1057.7,796.9 L1058.5,795.6 L1059.3,794.4 L1060.1,793.1 L1060.9,791.8 L1061.7,790.5 L1062.5,789.3 L1063.3,788.0 L1064.1,786.7 L1064.9,785.4 L1065.7,784.2 L1066.5,782.9 L1067.3,781.6 L1068.2,780.3 L1069.0,779.0 L1069.8,777.8 L1070.6,776.5 L1071.5,775.2 L1072.3,773.9 L1073.2,772.7 L1074.0,771.4 L1074.9,770.1 L1075.7,768.8 L1076.6,767.6 L1077.5,766.3 L1078.3,765.0 L1079.2,763.8 L1080.1,762.6 L1081.1,761.3 L1082.0,760.1 L1082.9,758.9 L1083.9,757.7 L1084.9,756.6 L1085.9,755.4 L1086.9,754.3 L1087.9,753.2 L1088.9,752.1 L1090.0,751.0 L1091.0,750.0 L1092.1,748.9 L1093.3,747.9 L1094.4,747.0 L1095.6,746.0 L1096.7,745.1 L1098.0,744.2 L1099.2,743.4 L1100.5,742.6 L1101.7,741.8 L1103.1,741.0 L1104.4,740.3 L1105.8,739.7 L1107.2,739.0 L1108.6,738.5 L1110.0,737.9 L1111.4,737.5 L1112.9,737.1 L1114.3,736.7 L1115.8,736.5 L1117.2,736.3 L1118.7,736.2 L1120.1,736.1 L1121.5,736.2 L1122.9,736.3 L1124.3,736.5 L1125.7,736.8 L1127.0,737.2 L1128.4,737.7 L1129.7,738.3 L1131.0,738.9 L1132.2,739.7 L1133.5,740.4 L1134.7,741.3 L1135.9,742.2 L1137.1,743.1 L1138.3,744.1 L1139.5,745.1 L1140.7,746.2 L1141.8,747.2 L1142.9,748.3 L1144.1,749.5 L1145.2,750.6 L1146.3,751.7 L1147.4,752.9 L1148.4,754.0 L1149.5,755.1 L1150.6,756.3 L1151.6,757.4 L1152.7,758.6 L1153.7,759.7 L1154.7,760.9 L1155.7,762.0 L1156.7,763.2 L1157.7,764.4 L1158.7,765.5 L1159.7,766.7 L1160.7,767.8 L1161.7,769.0 L1162.6,770.2 L1163.6,771.4 L1164.5,772.5 L1165.5,773.7 L1166.4,774.9 L1167.4,776.1 L1168.3,777.3 L1169.2,778.5 L1170.1,779.6 L1171.0,780.8 L1171.9,782.0 L1172.9,783.2 L1173.8,784.4 L1174.7,785.6 L1175.5,786.8 L1176.4,788.0 L1177.3,789.2 L1178.2,790.4 L1179.1,791.6 L1180.0,792.8 L1180.9,794.0 L1181.7,795.2 L1182.6,796.4 L1183.5,797.6 L1184.3,798.9 L1185.2,800.1 L1186.1,801.3 L1187.0,802.5 L1187.8,803.7 L1188.7,804.9 L1189.6,806.1 L1190.5,807.3 L1191.3,808.5 L1192.2,809.8 L1193.1,811.0 L1193.9,812.2 L1194.8,813.4 L1195.7,814.6 L1196.6,815.8 L1197.5,817.1 L1198.4,818.3 L1199.3,819.5 L1200.1,820.7 L1201.0,821.9 L1201.9,823.1 L1202.8,824.3 L1203.7,825.5 L1204.7,826.8 L1205.6,828.0 L1206.5,829.2 L1207.4,830.4 L1208.3,831.6 L1209.2,832.8 L1210.2,834.0 L1211.1,835.2 L1212.0,836.4 L1213.0,837.6 L1213.9,838.8 L1214.9,840.0 L1215.8,841.1 L1216.8,842.3 L1217.7,843.5 L1218.7,844.7 L1219.7,845.8 L1220.6,847.0 L1221.6,848.2 L1222.6,849.3 L1223.6,850.5 L1224.6,851.7 L1225.5,852.8 L1226.5,853.9 L1227.5,855.1 L1228.6,856.2 L1229.6,857.3 L1230.6,858.5 L1231.6,859.6 L1232.6,860.7 L1233.7,861.8 L1234.7,862.9 L1235.7,864.0 L1236.8,865.1 L1237.8,866.2 L1238.9,867.3 L1240.0,868.3 L1241.0,869.4 L1242.1,870.5 L1243.2,871.5 L1244.3,872.6 L1245.4,873.6 L1246.5,874.6 L1247.6,875.6 L1248.7,876.7 L1249.8,877.7 L1250.9,878.7 L1252.0,879.7 L1253.2,880.6 L1254.3,881.6 L1255.5,882.6 L1256.6,883.5 L1257.8,884.5 L1259.0,885.4 L1260.1,886.4 L1261.3,887.3 L1262.5,888.2 L1263.7,889.1 L1264.9,890.0 L1266.1,890.9 L1267.3,891.8 L1268.5,892.6 L1269.8,893.5 L1271.0,894.3 L1272.3,895.1 L1273.5,896.0 L1274.8,896.8 L1276.0,897.6 L1277.3,898.4 L1278.6,899.1 L1279.9,899.9 L1281.2,900.7 L1282.5,901.4 L1283.8,902.1 L1285.1,902.9 L1286.5,903.6 L1287.8,904.3 L1289.2,904.9 L1290.5,905.6 L1291.9,906.3 L1293.2,906.9 L1294.6,907.5 L1296.0,908.2 L1297.4,908.8 L1298.8,909.4 L1300.2,909.9 L1301.7,910.5 L1303.1,911.0 L1304.5,911.6 L1306.0,912.1" fill="none" stroke="#FC2100" stroke-width="5.6" stroke-linejoin="round" stroke-linecap="round"/>
<path d="M960.5,900.7 L961.7,901.5 L962.9,902.3 L964.2,903.1 L965.5,904.0 L966.9,904.8 L968.2,905.6 L969.6,906.4 L971.0,907.1 L972.4,907.7 L973.9,908.3 L975.3,908.8 L976.8,909.1 L978.2,909.4 L979.7,909.5 L981.2,909.5 L982.6,909.4 L984.1,909.2 L985.5,908.9 L986.9,908.6 L988.4,908.1 L989.8,907.5 L991.2,906.9 L992.6,906.2 L994.0,905.4 L995.3,904.6 L996.7,903.8 L998.1,903.1 L999.4,902.4 L1000.8,901.8 L1002.2,901.3 L1003.5,900.9 L1004.9,900.6 L1006.3,900.5 L1007.7,900.5 L1009.2,900.6 L1010.6,900.8 L1012.0,901.1 L1013.5,901.5 L1014.9,901.9 L1016.3,902.3 L1017.8,902.7 L1019.2,903.0 L1020.7,903.3 L1022.2,903.5 L1023.6,903.7 L1025.1,903.9 L1026.5,904.0 L1028.0,904.1 L1029.4,904.2 L1030.9,904.2 L1032.4,904.3 L1033.8,904.2 L1035.3,904.2 L1036.8,904.1 L1038.2,904.0 L1039.7,903.8 L1041.2,903.7 L1042.7,903.5 L1044.1,903.3 L1045.6,903.0 L1047.1,902.8 L1048.6,902.5 L1050.0,902.2 L1051.5,901.9 L1053.0,901.6 L1054.5,901.3 L1055.9,900.9 L1057.4,900.6 L1058.9,900.2 L1060.4,899.8 L1061.9,899.4 L1063.4,899.0 L1064.8,898.6 L1066.3,898.2 L1067.8,897.8 L1069.3,897.4 L1070.8,897.0 L1072.3,896.5 L1073.8,896.1 L1075.2,895.7 L1076.7,895.3 L1078.2,894.9 L1079.7,894.5 L1081.2,894.1 L1082.7,893.7 L1084.2,893.3 L1085.6,892.9 L1087.1,892.5 L1088.6,892.2 L1090.1,891.8 L1091.6,891.5 L1093.1,891.2 L1094.6,890.9 L1096.0,890.6 L1097.5,890.3 L1099.0,890.1 L1100.5,889.9 L1102.0,889.7 L1103.5,889.5 L1104.9,889.3 L1106.4,889.2 L1107.9,889.1 L1109.4,889.0 L1110.9,888.9 L1112.3,888.9 L1113.8,888.9 L1115.3,888.8 L1116.8,888.9 L1118.3,888.9 L1119.7,888.9 L1121.2,889.0 L1122.7,889.1 L1124.2,889.2 L1125.6,889.3 L1127.1,889.4 L1128.6,889.6 L1130.1,889.7 L1131.5,889.9 L1133.0,890.1 L1134.5,890.3 L1136.0,890.5 L1137.4,890.7 L1138.9,891.0 L1140.4,891.2 L1141.9,891.5 L1143.3,891.8 L1144.8,892.1 L1146.3,892.4 L1147.7,892.7 L1149.2,893.0 L1150.7,893.4 L1152.2,893.7 L1153.6,894.1 L1155.1,894.4 L1156.6,894.8 L1158.0,895.2 L1159.5,895.6 L1161.0,896.0 L1162.4,896.4 L1163.9,896.8 L1165.4,897.2 L1166.8,897.6 L1168.3,898.0 L1169.8,898.4 L1171.2,898.9 L1172.7,899.3 L1174.2,899.8 L1175.6,900.2 L1177.1,900.7 L1178.6,901.1 L1180.0,901.6 L1181.5,902.0 L1183.0,902.5 L1184.4,902.9 L1185.9,903.4 L1187.4,903.8 L1188.8,904.3 L1190.3,904.7 L1191.8,905.2 L1193.2,905.7 L1194.7,906.1 L1196.2,906.6 L1197.6,907.0 L1199.1,907.4 L1200.6,907.9 L1202.0,908.3 L1203.5,908.8 L1204.9,909.2 L1206.4,909.6 L1207.9,910.0 L1209.3,910.4 L1210.8,910.8 L1212.3,911.2 L1213.7,911.6 L1215.2,912.0 L1216.7,912.4 L1218.1,912.8 L1219.6,913.1 L1221.1,913.5 L1222.5,913.9 L1224.0,914.2 L1225.5,914.5 L1226.9,914.9 L1228.4,915.2 L1229.9,915.5 L1231.3,915.9 L1232.8,916.2 L1234.3,916.5 L1235.7,916.8 L1237.2,917.1 L1238.7,917.4 L1240.1,917.6 L1241.6,917.9 L1243.1,918.2 L1244.5,918.4 L1246.0,918.7 L1247.5,919.0 L1249.0,919.2 L1250.4,919.4 L1251.9,919.7 L1253.4,919.9 L1254.9,920.1 L1256.4,920.4 L1257.8,920.6 L1259.3,920.8 L1260.8,921.0 L1262.3,921.2 L1263.8,921.4 L1265.3,921.6 L1266.8,921.8 L1268.2,921.9 L1269.7,922.1 L1271.2,922.3 L1272.7,922.5 L1274.2,922.6 L1275.7,922.8 L1277.2,922.9 L1278.7,923.1 L1280.2,923.2 L1281.7,923.4 L1283.2,923.5 L1284.7,923.6 L1286.2,923.7 L1287.7,923.9 L1289.2,924.0 L1290.8,924.1 L1292.3,924.2 L1293.8,924.3 L1295.3,924.4 L1296.8,924.5 L1298.4,924.6 L1299.9,924.7 L1301.4,924.8 L1302.9,924.9 L1304.5,924.9 L1306.0,925.0" fill="none" stroke="#000" stroke-width="5.6" stroke-linejoin="round" stroke-linecap="round"/>
<path d="M112.9,1373.2 L114.3,1372.7 L115.7,1372.1 L117.2,1371.6 L118.6,1371.0 L120.0,1370.5 L121.4,1369.9 L122.8,1369.4 L124.3,1368.8 L125.7,1368.2 L127.1,1367.6 L128.5,1367.0 L129.9,1366.4 L131.3,1365.8 L132.7,1365.2 L134.1,1364.6 L135.5,1363.9 L136.8,1363.2 L138.2,1362.6 L139.6,1361.9 L140.9,1361.2 L142.3,1360.5 L143.6,1359.8 L144.9,1359.0 L146.2,1358.3 L147.5,1357.5 L148.8,1356.7 L150.0,1355.9 L151.3,1355.0 L152.5,1354.2 L153.7,1353.3 L154.9,1352.4 L156.1,1351.5 L157.2,1350.6 L158.4,1349.6 L159.5,1348.7 L160.6,1347.7 L161.7,1346.7 L162.7,1345.6 L163.8,1344.6 L164.8,1343.5 L165.8,1342.4 L166.8,1341.3 L167.8,1340.2 L168.8,1339.1 L169.7,1337.9 L170.7,1336.8 L171.6,1335.6 L172.5,1334.4 L173.5,1333.2 L174.4,1332.0 L175.2,1330.8 L176.1,1329.5 L177.0,1328.3 L177.8,1327.0 L178.7,1325.8 L179.5,1324.5 L180.4,1323.2 L181.2,1321.9 L182.0,1320.7 L182.8,1319.4 L183.6,1318.1 L184.4,1316.8 L185.2,1315.5 L186.0,1314.1 L186.8,1312.8 L187.5,1311.5 L188.3,1310.2 L189.1,1308.9 L189.9,1307.6 L190.6,1306.3 L191.4,1304.9 L192.2,1303.6 L192.9,1302.3 L193.7,1301.0 L194.5,1299.7 L195.2,1298.4 L196.0,1297.0 L196.8,1295.7 L197.5,1294.4 L198.3,1293.1 L199.1,1291.8 L199.9,1290.5 L200.7,1289.3 L201.5,1288.0 L202.3,1286.7 L203.1,1285.4 L203.9,1284.2 L204.8,1282.9 L205.6,1281.7 L206.5,1280.4 L207.3,1279.2 L208.2,1278.0 L209.1,1276.8 L210.0,1275.6 L210.9,1274.4 L211.8,1273.2 L212.7,1272.0 L213.6,1270.8 L214.6,1269.7 L215.6,1268.6 L216.6,1267.4 L217.6,1266.3 L218.6,1265.2 L219.6,1264.1 L220.7,1263.0 L221.7,1262.0 L222.8,1260.9 L223.9,1259.9 L225.0,1258.8 L226.1,1257.8 L227.2,1256.8 L228.3,1255.8 L229.5,1254.8 L230.6,1253.8 L231.8,1252.8 L232.9,1251.8 L234.1,1250.8 L235.3,1249.9 L236.5,1248.9 L237.7,1247.9 L238.9,1247.0 L240.1,1246.1 L241.3,1245.1 L242.5,1244.2 L243.7,1243.3 L244.9,1242.3 L246.1,1241.4 L247.4,1240.5 L248.6,1239.6 L249.8,1238.7 L249.8,1238.7 L251.0,1239.8 L252.1,1240.8 L253.4,1241.7 L254.6,1242.6 L255.9,1243.4 L257.2,1244.1 L258.5,1244.8 L259.9,1245.4 L261.3,1245.9 L262.7,1246.4 L264.2,1246.8 L265.6,1247.1 L267.1,1247.5 L268.5,1248.0 L269.8,1248.6 L271.1,1249.2 L272.2,1250.0 L273.3,1250.9 L274.3,1251.9 L275.2,1253.0 L276.0,1254.2 L276.8,1255.4 L277.4,1256.7 L278.0,1258.1 L278.6,1259.5 L279.0,1261.0 L279.5,1262.5 L279.9,1264.1 L280.2,1265.6 L280.5,1267.2 L280.8,1268.8 L281.1,1270.4 L281.4,1272.0 L281.6,1273.6 L281.9,1275.2 L282.1,1276.7 L282.4,1278.3 L282.7,1279.8 L282.9,1281.3 L283.2,1282.8 L283.5,1284.3 L283.8,1285.7 L284.1,1287.2 L284.4,1288.7 L284.8,1290.1 L285.1,1291.6 L285.5,1293.0 L285.9,1294.5 L286.3,1296.0 L286.7,1297.4 L287.1,1298.8 L287.5,1300.3 L288.0,1301.7 L288.5,1303.2 L288.9,1304.6 L289.4,1306.0 L289.9,1307.5 L290.4,1308.9 L291.0,1310.3 L291.5,1311.7 L292.0,1313.1 L292.6,1314.6 L293.1,1316.0 L293.7,1317.4 L294.3,1318.8 L294.9,1320.2 L295.5,1321.6 L296.1,1323.0 L296.7,1324.4 L297.3,1325.8 L298.0,1327.2 L298.6,1328.6 L299.3,1330.0 L299.9,1331.4 L300.6,1332.7 L301.2,1334.1 L301.9,1335.5 L302.6,1336.9 L303.2,1338.3 L303.9,1339.6 L304.6,1341.0 L305.3,1342.4 L306.0,1343.7 L306.7,1345.1 L307.4,1346.5 L308.1,1347.8 L308.8,1349.2 L309.5,1350.5 L310.2,1351.9 L310.9,1353.2 L311.6,1354.6 L312.3,1355.9 L313.0,1357.3 L313.7,1358.6 L314.4,1359.9 L315.1,1361.3 L315.8,1362.6" fill="none" stroke="#FC2100" stroke-width="5.6" stroke-linejoin="round" stroke-linecap="round" stroke-dasharray="14.20 13.28"/>
<path d="M112.9,1401.7 L114.4,1401.7 L115.9,1401.7 L117.4,1401.6 L119.0,1401.6 L120.5,1401.5 L122.0,1401.5 L123.5,1401.4 L125.0,1401.3 L126.5,1401.2 L128.0,1401.1 L129.5,1401.0 L131.1,1400.9 L132.6,1400.8 L134.1,1400.7 L135.6,1400.6 L137.1,1400.5 L138.6,1400.3 L140.1,1400.2 L141.6,1400.0 L143.2,1399.9 L144.7,1399.7 L146.2,1399.6 L147.7,1399.4 L149.2,1399.3 L150.7,1399.1 L152.2,1398.9 L153.7,1398.8 L155.3,1398.6 L156.8,1398.4 L158.3,1398.2 L159.8,1398.1 L161.3,1397.9 L162.8,1397.7 L164.3,1397.5 L165.8,1397.3 L167.4,1397.1 L168.9,1397.0 L170.4,1396.8 L171.9,1396.6 L173.4,1396.4 L174.9,1396.2 L176.4,1396.0 L177.9,1395.8 L179.4,1395.7 L181.0,1395.5 L182.5,1395.3 L184.0,1395.1 L185.5,1395.0 L187.0,1394.8 L188.5,1394.6 L190.0,1394.4 L191.5,1394.3 L193.0,1394.1 L194.6,1394.0 L196.1,1393.8 L197.6,1393.7 L199.1,1393.5 L200.6,1393.4 L202.1,1393.3 L203.6,1393.1 L205.1,1393.0 L206.6,1392.9 L208.2,1392.8 L209.7,1392.7 L211.2,1392.6 L212.7,1392.5 L214.2,1392.4 L215.7,1392.3 L217.2,1392.2 L218.7,1392.2 L220.2,1392.1 L221.7,1392.1 L223.3,1392.0 L224.8,1392.0 L226.3,1392.0 L227.8,1392.0 L229.3,1391.9 L230.8,1391.9 L232.3,1392.0 L233.8,1392.0 L235.3,1392.0 L236.9,1392.1 L238.4,1392.1 L239.9,1392.2 L241.4,1392.2 L242.9,1392.3 L244.4,1392.4 L245.9,1392.5 L247.4,1392.6 L248.9,1392.7 L250.4,1392.8 L252.0,1392.9 L253.5,1393.0 L255.0,1393.1 L256.5,1393.3 L258.0,1393.4 L259.5,1393.6 L261.0,1393.7 L262.5,1393.9 L264.0,1394.0 L265.5,1394.2 L267.0,1394.4 L268.6,1394.5 L270.1,1394.7 L271.6,1394.9 L273.1,1395.1 L274.6,1395.2 L276.1,1395.4 L277.6,1395.6 L279.1,1395.8 L280.6,1396.0 L282.1,1396.2 L283.6,1396.4 L285.1,1396.6 L286.6,1396.8 L288.1,1397.0 L289.7,1397.2 L291.2,1397.4 L292.7,1397.6 L294.2,1397.8 L295.7,1398.0 L297.2,1398.2 L298.7,1398.4 L300.2,1398.6 L301.7,1398.8 L303.2,1399.0 L304.7,1399.2 L306.2,1399.4 L307.7,1399.6 L309.2,1399.8 L310.7,1400.0 L312.2,1400.2 L313.7,1400.4 L315.2,1400.6 L316.7,1400.7 L318.2,1400.9" fill="none" stroke="#000" stroke-width="5.6" stroke-linejoin="round" stroke-linecap="round" stroke-dasharray="14.20 13.24"/>
<path d="M318.2,1360.2 L319.3,1359.1 L320.4,1358.1 L321.4,1357.0 L322.4,1355.9 L323.4,1354.8 L324.4,1353.6 L325.4,1352.5 L326.4,1351.3 L327.3,1350.2 L328.2,1349.0 L329.1,1347.8 L330.0,1346.6 L330.9,1345.4 L331.8,1344.2 L332.6,1343.0 L333.5,1341.7 L334.3,1340.5 L335.1,1339.2 L335.9,1337.9 L336.7,1336.7 L337.5,1335.4 L338.2,1334.1 L339.0,1332.8 L339.7,1331.5 L340.5,1330.2 L341.2,1328.8 L341.9,1327.5 L342.6,1326.2 L343.3,1324.8 L344.0,1323.5 L344.7,1322.1 L345.4,1320.8 L346.0,1319.4 L346.7,1318.1 L347.3,1316.7 L348.0,1315.3 L348.6,1314.0 L349.3,1312.6 L349.9,1311.2 L350.5,1309.8 L351.2,1308.4 L351.8,1307.1 L352.4,1305.7 L353.0,1304.3 L353.6,1302.9 L354.3,1301.5 L354.9,1300.1 L355.5,1298.7 L356.1,1297.4 L356.7,1296.0 L357.3,1294.6 L357.9,1293.2 L358.5,1291.8 L359.2,1290.5 L359.8,1289.1 L360.4,1287.7 L361.0,1286.4 L361.6,1285.0 L362.2,1283.6 L362.9,1282.2 L363.5,1280.9 L364.1,1279.5 L364.8,1278.2 L365.4,1276.8 L366.0,1275.5 L366.7,1274.1 L367.3,1272.8 L368.0,1271.4 L368.7,1270.1 L369.3,1268.7 L370.0,1267.4 L370.7,1266.1 L371.3,1264.7 L372.0,1263.4 L372.7,1262.1 L373.4,1260.8 L374.1,1259.4 L374.9,1258.1 L375.6,1256.8 L376.3,1255.5 L377.0,1254.2 L377.8,1252.9 L378.5,1251.6 L379.3,1250.3 L380.1,1249.0 L380.9,1247.7 L381.6,1246.4 L382.4,1245.2 L383.3,1243.9 L384.1,1242.6 L384.9,1241.4 L385.8,1240.1 L386.6,1238.8 L387.5,1237.6 L388.3,1236.3 L389.2,1235.1 L390.1,1233.9 L391.0,1232.6 L392.0,1231.4 L392.9,1230.2 L393.9,1229.0 L394.8,1227.7 L395.8,1226.5 L396.8,1225.3 L397.8,1224.2 L398.8,1223.0 L399.9,1221.9 L400.9,1220.8 L402.0,1219.7 L403.1,1218.7 L404.3,1217.7 L405.4,1216.7 L406.6,1215.8 L407.8,1214.9 L409.1,1214.1 L410.3,1213.3 L411.6,1212.6 L413.0,1212.0 L414.3,1211.4 L415.7,1210.9 L417.2,1210.4 L418.6,1210.0 L420.1,1209.7 L421.6,1209.5 L423.1,1209.4 L424.7,1209.3 L426.2,1209.2 L427.7,1209.3 L429.2,1209.4 L430.7,1209.5 L432.2,1209.8 L433.6,1210.0 L435.0,1210.4 L436.4,1210.8 L437.7,1211.2 L439.1,1211.7 L440.4,1212.3 L441.7,1212.9 L442.9,1213.5 L444.2,1214.2 L445.4,1215.0 L446.6,1215.7 L447.7,1216.6 L448.9,1217.4 L450.0,1218.3 L451.2,1219.2 L452.3,1220.2 L453.4,1221.2 L454.4,1222.2 L455.5,1223.2 L456.5,1224.3 L457.6,1225.4 L458.6,1226.5 L459.6,1227.6 L460.6,1228.8 L461.6,1229.9 L462.5,1231.1 L463.5,1232.3 L464.4,1233.5 L465.4,1234.7 L466.3,1235.9 L467.3,1237.2 L468.2,1238.4 L469.1,1239.6 L470.0,1240.9 L471.0,1242.1 L471.9,1243.3 L472.8,1244.6 L473.7,1245.8 L474.6,1247.1 L475.4,1248.3 L476.3,1249.6 L477.2,1250.8 L478.1,1252.1 L479.0,1253.3 L479.8,1254.6 L480.7,1255.9 L481.6,1257.1 L482.4,1258.4 L483.3,1259.7 L484.1,1260.9 L485.0,1262.2 L485.8,1263.5 L486.7,1264.8 L487.5,1266.0 L488.4,1267.3 L489.2,1268.6 L490.0,1269.9 L490.9,1271.1 L491.7,1272.4 L492.5,1273.7 L493.4,1275.0 L494.2,1276.2 L495.0,1277.5 L495.9,1278.8 L496.7,1280.1 L497.5,1281.3 L498.4,1282.6 L499.2,1283.9 L500.0,1285.2 L500.8,1286.4 L501.7,1287.7 L502.5,1289.0 L503.3,1290.2 L504.2,1291.5 L505.0,1292.8 L505.8,1294.0 L506.7,1295.3 L507.5,1296.6 L508.3,1297.8 L509.2,1299.1 L510.0,1300.3 L510.9,1301.6 L511.7,1302.8 L512.6,1304.1 L513.4,1305.3 L514.3,1306.6 L515.1,1307.8 L516.0,1309.0 L516.8,1310.2 L517.7,1311.5 L518.6,1312.7 L519.4,1313.9 L520.3,1315.1 L521.2,1316.3 L522.1,1317.5 L523.0,1318.7 L523.9,1319.9 L524.8,1321.1 L525.7,1322.3 L526.6,1323.5 L527.5,1324.7 L528.4,1325.9 L529.3,1327.0 L530.2,1328.2 L531.2,1329.3 L532.1,1330.5 L533.1,1331.6 L534.0,1332.8 L535.0,1333.9 L535.9,1335.1 L536.9,1336.2 L537.9,1337.3 L538.9,1338.4 L539.9,1339.5 L540.9,1340.6 L541.9,1341.7 L542.9,1342.8 L543.9,1343.9 L544.9,1344.9 L546.0,1346.0 L547.0,1347.0 L548.1,1348.1 L549.1,1349.1 L550.2,1350.2 L551.3,1351.2 L552.3,1352.2 L553.4,1353.2 L554.5,1354.2 L555.7,1355.2 L556.8,1356.2 L557.9,1357.2 L559.1,1358.1 L560.2,1359.1 L561.4,1360.0 L562.5,1361.0 L563.7,1361.9 L564.9,1362.8 L566.1,1363.8 L567.3,1364.7 L568.5,1365.6 L569.7,1366.4 L571.0,1367.3 L572.2,1368.2 L573.4,1369.0 L574.7,1369.9 L576.0,1370.7 L577.2,1371.5 L578.5,1372.4 L579.8,1373.2 L581.1,1374.0 L582.4,1374.7 L583.7,1375.5 L585.0,1376.3 L586.3,1377.0 L587.6,1377.8 L588.9,1378.5 L590.3,1379.2 L591.6,1379.9 L593.0,1380.6 L594.3,1381.3 L595.7,1382.0 L597.0,1382.7 L598.4,1383.3 L599.8,1383.9 L601.2,1384.6 L602.5,1385.2 L603.9,1385.8 L605.3,1386.4 L606.7,1387.0 L608.1,1387.5 L609.6,1388.1 L611.0,1388.6 L612.4,1389.2 L613.8,1389.7 L615.2,1390.2 L616.7,1390.7 L618.1,1391.2 L619.6,1391.6 L621.0,1392.1 L622.4,1392.5 L623.9,1392.9 L625.4,1393.3 L626.8,1393.7 L628.3,1394.1 L629.7,1394.5 L631.2,1394.9 L632.7,1395.2 L634.1,1395.5 L635.6,1395.8 L637.1,1396.1 L638.6,1396.4 L640.1,1396.7 L641.6,1397.0 L643.0,1397.2 L644.5,1397.4 L646.0,1397.6 L647.5,1397.8 L649.0,1398.0 L650.5,1398.2 L652.0,1398.3 L653.5,1398.5 L655.0,1398.6 L656.5,1398.7 L658.0,1398.8 L659.5,1398.9 L661.0,1398.9 L662.5,1399.0 L664.0,1399.0" fill="none" stroke="#FC2100" stroke-width="5.6" stroke-linejoin="round" stroke-linecap="round"/>
<path d="M319.5,1389.3 L321.0,1389.7 L322.4,1390.2 L323.9,1390.5 L325.4,1390.9 L326.8,1391.2 L328.3,1391.4 L329.8,1391.7 L331.3,1391.9 L332.8,1392.1 L334.3,1392.2 L335.7,1392.4 L337.2,1392.5 L338.7,1392.5 L340.2,1392.6 L341.7,1392.6 L343.2,1392.6 L344.7,1392.6 L346.2,1392.5 L347.7,1392.5 L349.2,1392.4 L350.6,1392.2 L352.1,1392.1 L353.6,1391.9 L355.1,1391.8 L356.6,1391.6 L358.1,1391.4 L359.6,1391.1 L361.0,1390.9 L362.5,1390.6 L364.0,1390.3 L365.5,1390.0 L366.9,1389.7 L368.4,1389.4 L369.9,1389.1 L371.3,1388.7 L372.8,1388.3 L374.3,1388.0 L375.7,1387.6 L377.2,1387.2 L378.6,1386.8 L380.1,1386.3 L381.5,1385.9 L383.0,1385.5 L384.4,1385.0 L385.8,1384.5 L387.3,1384.1 L388.7,1383.6 L390.1,1383.1 L391.6,1382.6 L393.0,1382.0 L394.4,1381.5 L395.8,1381.0 L397.3,1380.4 L398.7,1379.9 L400.1,1379.3 L401.5,1378.8 L402.9,1378.2 L404.3,1377.6 L405.7,1377.0 L407.2,1376.5 L408.6,1375.9 L410.0,1375.3 L411.4,1374.7 L412.8,1374.1 L414.2,1373.5 L415.6,1372.9 L417.0,1372.3 L418.4,1371.7 L419.8,1371.1 L421.2,1370.5 L422.6,1370.0 L424.0,1369.4 L425.5,1368.8 L426.9,1368.3 L428.3,1367.7 L429.7,1367.2 L431.1,1366.6 L432.5,1366.1 L434.0,1365.6 L435.4,1365.1 L436.8,1364.6 L438.2,1364.2 L439.7,1363.7 L441.1,1363.3 L442.6,1362.8 L444.0,1362.4 L445.5,1362.0 L446.9,1361.7 L448.4,1361.3 L449.8,1361.0 L451.3,1360.7 L452.8,1360.4 L454.3,1360.1 L455.7,1359.9 L457.2,1359.7 L458.7,1359.5 L460.2,1359.3 L461.7,1359.1 L463.2,1359.0 L464.7,1358.9 L466.2,1358.8 L467.7,1358.7 L469.2,1358.7 L470.7,1358.6 L472.2,1358.6 L473.7,1358.6 L475.2,1358.7 L476.7,1358.7 L478.2,1358.8 L479.6,1358.9 L481.1,1359.0 L482.6,1359.2 L484.1,1359.3 L485.6,1359.5 L487.1,1359.7 L488.5,1359.9 L490.0,1360.2 L491.5,1360.5 L492.9,1360.7 L494.4,1361.0 L495.8,1361.4 L497.3,1361.7 L498.7,1362.0 L500.2,1362.4 L501.6,1362.8 L503.1,1363.2 L504.5,1363.6 L506.0,1364.0 L507.4,1364.5 L508.8,1364.9 L510.3,1365.4 L511.7,1365.9 L513.1,1366.4 L514.5,1366.9 L516.0,1367.4 L517.4,1367.9 L518.8,1368.4 L520.2,1369.0 L521.6,1369.5 L523.1,1370.1 L524.5,1370.6 L525.9,1371.2 L527.3,1371.8 L528.7,1372.3 L530.1,1372.9 L531.5,1373.5 L533.0,1374.1 L534.4,1374.7 L535.8,1375.3 L537.2,1375.9 L538.6,1376.4 L540.0,1377.0 L541.4,1377.6 L542.8,1378.2 L544.3,1378.8 L545.7,1379.4 L547.1,1380.0 L548.5,1380.6 L549.9,1381.2 L551.3,1381.7 L552.8,1382.3 L554.2,1382.9 L555.6,1383.4 L557.0,1384.0 L558.4,1384.5 L559.9,1385.1 L561.3,1385.6 L562.7,1386.1 L564.1,1386.6 L565.6,1387.1 L567.0,1387.6 L568.4,1388.1 L569.9,1388.6 L571.3,1389.0 L572.8,1389.5 L574.2,1389.9 L575.7,1390.4 L577.1,1390.8 L578.5,1391.2 L580.0,1391.6 L581.5,1392.0 L582.9,1392.4 L584.4,1392.7 L585.8,1393.1 L587.3,1393.4 L588.8,1393.8 L590.2,1394.1 L591.7,1394.4 L593.2,1394.7 L594.6,1395.0 L596.1,1395.3 L597.6,1395.6 L599.0,1395.9 L600.5,1396.2 L602.0,1396.4 L603.5,1396.7 L605.0,1396.9 L606.4,1397.2 L607.9,1397.4 L609.4,1397.6 L610.9,1397.8 L612.4,1398.0 L613.9,1398.2 L615.4,1398.4 L616.9,1398.6 L618.4,1398.8 L619.9,1398.9 L621.4,1399.1 L622.9,1399.3 L624.4,1399.4 L625.9,1399.5 L627.4,1399.7 L628.9,1399.8 L630.4,1399.9 L631.9,1400.1 L633.4,1400.2 L634.9,1400.3 L636.4,1400.4 L637.9,1400.5 L639.4,1400.6 L640.9,1400.6 L642.4,1400.7 L644.0,1400.8 L645.5,1400.9 L647.0,1400.9 L648.5,1401.0 L650.0,1401.0 L651.5,1401.1 L653.1,1401.1 L654.6,1401.2 L656.1,1401.2 L657.6,1401.2 L659.2,1401.3 L660.7,1401.3 L662.2,1401.3" fill="none" stroke="#000" stroke-width="5.6" stroke-linejoin="round" stroke-linecap="round"/>
<circle cx="377.9" cy="437" r="2.9" fill="#000"/>
<circle cx="318.9" cy="870.9" r="2.9" fill="#FC2100"/>
<text transform="translate(701.52,1123.00) scale(1,1.05)" font-size="42.5" font-weight="normal">AACA</text>
<text transform="translate(869.58,1119.10) scale(1,1.05)" font-size="42.9" font-weight="normal">Binding affinity K</text>
<text transform="translate(1190.62,1128.50) scale(1,1.0)" font-size="30.5" font-weight="normal">d</text>
<text transform="translate(1219.93,1119.10) scale(1,1.05)" font-size="41.5" font-weight="normal">(μM)</text>
<line x1="682.40" y1="1152.40" x2="1346.00" y2="1152.40" stroke="#000" stroke-width="2.6" stroke-linecap="butt"/>
<text x="747" y="1207.2" font-size="41.5" font-weight="bold">1</text>
<text transform="translate(980.77,1207.20) scale(1,1.0)" font-size="43.0" font-weight="normal">19.4</text>
<text transform="translate(1078.44,1207.20) scale(1,1.0)" font-size="43.0" font-weight="normal">±</text>
<text transform="translate(1111.42,1207.20) scale(1,1.0)" font-size="43.0" font-weight="normal">10.3</text>
<text x="747" y="1289.5" font-size="41.5" font-weight="bold">2</text>
<text transform="translate(1004.68,1289.50) scale(1,1.0)" font-size="43.0" font-weight="normal">1.4</text>
<text transform="translate(1078.44,1289.50) scale(1,1.0)" font-size="43.0" font-weight="normal">±</text>
<text transform="translate(1113.02,1289.50) scale(1,1.0)" font-size="43.0" font-weight="normal">0.2</text>
<text x="747" y="1371.5" font-size="41.5" font-weight="bold">3</text>
<text transform="translate(1005.31,1371.50) scale(1,1.0)" font-size="43.0" font-weight="normal">2.3</text>
<text transform="translate(1078.44,1371.50) scale(1,1.0)" font-size="43.0" font-weight="normal">±</text>
<text transform="translate(1113.02,1371.50) scale(1,1.0)" font-size="43.0" font-weight="normal">0.6</text>
<text x="747" y="1453.5" font-size="41.5" font-weight="bold">4</text>
<text transform="translate(981.40,1453.50) scale(1,1.0)" font-size="43.0" font-weight="normal">0.36</text>
<text transform="translate(1078.44,1453.50) scale(1,1.0)" font-size="43.0" font-weight="normal">±</text>
<text transform="translate(1113.02,1453.50) scale(1,1.0)" font-size="43.0" font-weight="normal">0.19</text>
<text x="747" y="1535.0" font-size="41.5" font-weight="bold">5</text>
<text transform="translate(981.40,1535.00) scale(1,1.0)" font-size="43.0" font-weight="normal">0.53</text>
<text transform="translate(1078.44,1535.00) scale(1,1.0)" font-size="43.0" font-weight="normal">±</text>
<text transform="translate(1113.02,1535.00) scale(1,1.0)" font-size="43.0" font-weight="normal">0.20</text>
</svg>
</body></html>
